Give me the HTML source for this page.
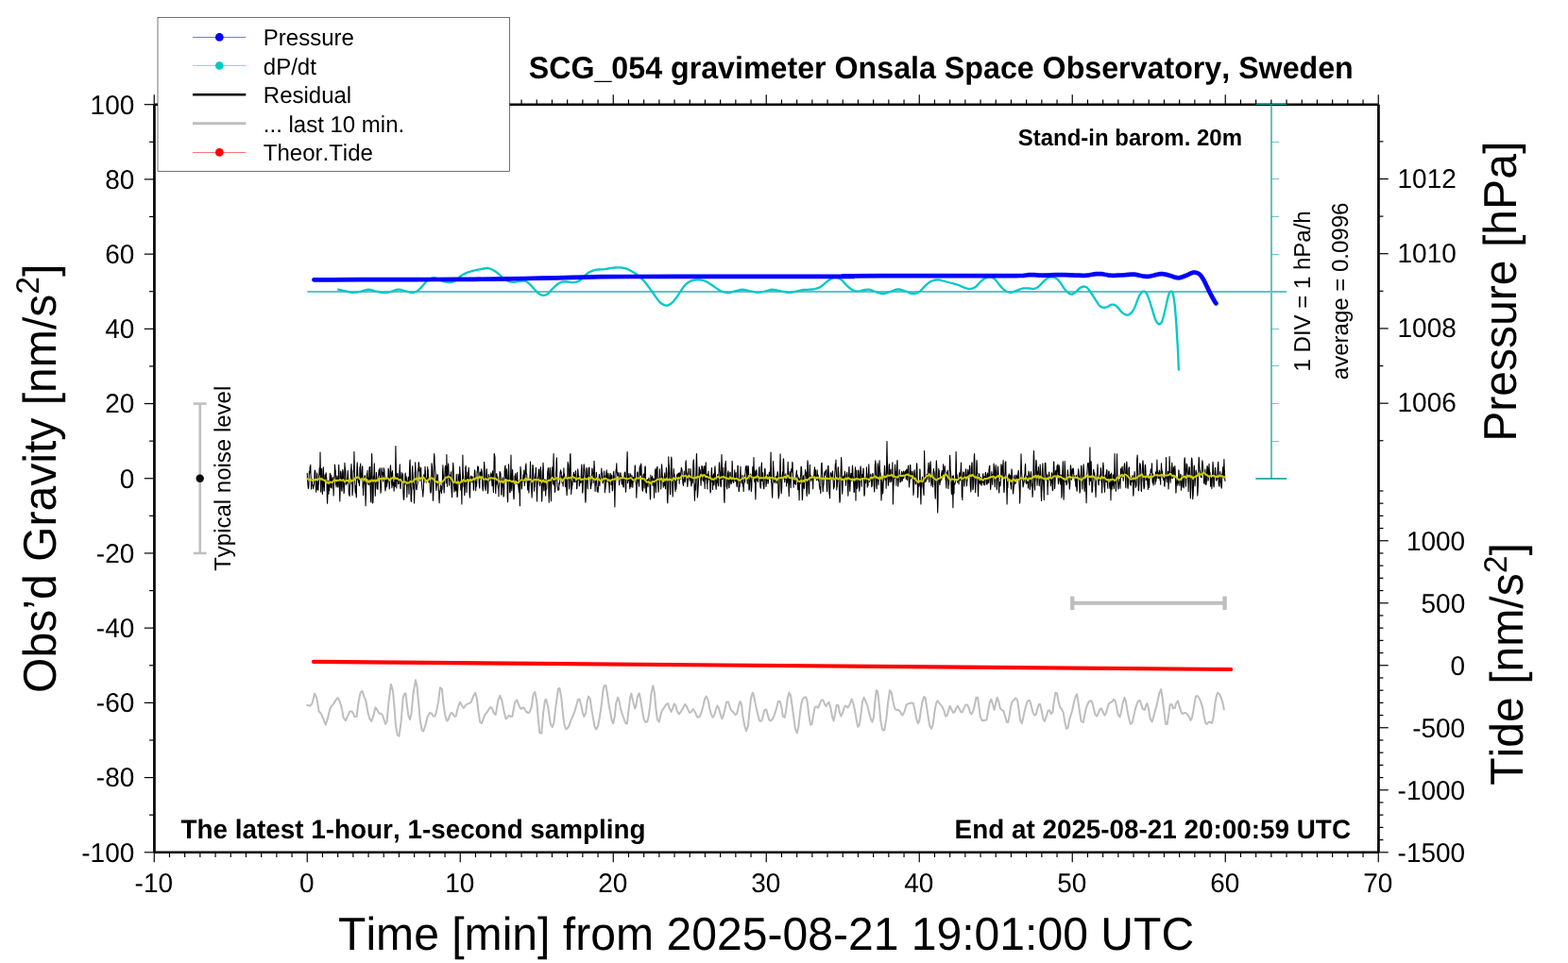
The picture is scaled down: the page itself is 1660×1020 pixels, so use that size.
<!DOCTYPE html>
<html lang="en">
<head>
<meta charset="utf-8">
<title>SCG_054 gravimeter Onsala Space Observatory, Sweden</title>
<style>
html,body{margin:0;padding:0;background:#fff;}
body{width:1660px;height:1020px;overflow:hidden;}
svg{display:block;font-family:'Liberation Sans', 'DejaVu Sans', sans-serif;font-kerning:none;text-rendering:geometricPrecision;}
</style>
</head>
<body>
<svg width="1660" height="1020" viewBox="0 0 1660 1020">
<rect x="0" y="0" width="1660" height="1020" fill="#ffffff"/>
<line x1="152.75" y1="902.80" x2="163.25" y2="902.80" stroke="#000" stroke-width="1.2" />
<text transform="translate(142.30 912.70) scale(1 1.02)" font-size="28" text-anchor="end" >-100</text>
<line x1="158.05" y1="863.19" x2="163.25" y2="863.19" stroke="#000" stroke-width="1.2" />
<line x1="152.75" y1="823.59" x2="163.25" y2="823.59" stroke="#000" stroke-width="1.2" />
<text transform="translate(142.30 833.49) scale(1 1.02)" font-size="28" text-anchor="end" >-80</text>
<line x1="158.05" y1="783.99" x2="163.25" y2="783.99" stroke="#000" stroke-width="1.2" />
<line x1="152.75" y1="744.38" x2="163.25" y2="744.38" stroke="#000" stroke-width="1.2" />
<text transform="translate(142.30 754.28) scale(1 1.02)" font-size="28" text-anchor="end" >-60</text>
<line x1="158.05" y1="704.77" x2="163.25" y2="704.77" stroke="#000" stroke-width="1.2" />
<line x1="152.75" y1="665.17" x2="163.25" y2="665.17" stroke="#000" stroke-width="1.2" />
<text transform="translate(142.30 675.07) scale(1 1.02)" font-size="28" text-anchor="end" >-40</text>
<line x1="158.05" y1="625.57" x2="163.25" y2="625.57" stroke="#000" stroke-width="1.2" />
<line x1="152.75" y1="585.96" x2="163.25" y2="585.96" stroke="#000" stroke-width="1.2" />
<text transform="translate(142.30 595.86) scale(1 1.02)" font-size="28" text-anchor="end" >-20</text>
<line x1="158.05" y1="546.36" x2="163.25" y2="546.36" stroke="#000" stroke-width="1.2" />
<line x1="152.75" y1="506.75" x2="163.25" y2="506.75" stroke="#000" stroke-width="1.2" />
<text transform="translate(142.30 516.65) scale(1 1.02)" font-size="28" text-anchor="end" >0</text>
<line x1="158.05" y1="467.14" x2="163.25" y2="467.14" stroke="#000" stroke-width="1.2" />
<line x1="152.75" y1="427.54" x2="163.25" y2="427.54" stroke="#000" stroke-width="1.2" />
<text transform="translate(142.30 437.44) scale(1 1.02)" font-size="28" text-anchor="end" >20</text>
<line x1="158.05" y1="387.94" x2="163.25" y2="387.94" stroke="#000" stroke-width="1.2" />
<line x1="152.75" y1="348.33" x2="163.25" y2="348.33" stroke="#000" stroke-width="1.2" />
<text transform="translate(142.30 358.23) scale(1 1.02)" font-size="28" text-anchor="end" >40</text>
<line x1="158.05" y1="308.73" x2="163.25" y2="308.73" stroke="#000" stroke-width="1.2" />
<line x1="152.75" y1="269.12" x2="163.25" y2="269.12" stroke="#000" stroke-width="1.2" />
<text transform="translate(142.30 279.02) scale(1 1.02)" font-size="28" text-anchor="end" >60</text>
<line x1="158.05" y1="229.51" x2="163.25" y2="229.51" stroke="#000" stroke-width="1.2" />
<line x1="152.75" y1="189.91" x2="163.25" y2="189.91" stroke="#000" stroke-width="1.2" />
<text transform="translate(142.30 199.81) scale(1 1.02)" font-size="28" text-anchor="end" >80</text>
<line x1="158.05" y1="150.31" x2="163.25" y2="150.31" stroke="#000" stroke-width="1.2" />
<line x1="152.75" y1="110.70" x2="163.25" y2="110.70" stroke="#000" stroke-width="1.2" />
<text transform="translate(142.30 120.60) scale(1 1.02)" font-size="28" text-anchor="end" >100</text>
<line x1="163.25" y1="902.80" x2="163.25" y2="913.30" stroke="#000" stroke-width="1.2" />
<line x1="163.25" y1="110.70" x2="163.25" y2="100.20" stroke="#000" stroke-width="1.2" />
<text transform="translate(162.85 944.70) scale(1 1.02)" font-size="28" text-anchor="middle" >-10</text>
<line x1="179.45" y1="902.80" x2="179.45" y2="908.00" stroke="#000" stroke-width="1.2" />
<line x1="179.45" y1="110.70" x2="179.45" y2="105.50" stroke="#000" stroke-width="1.2" />
<line x1="195.65" y1="902.80" x2="195.65" y2="908.00" stroke="#000" stroke-width="1.2" />
<line x1="195.65" y1="110.70" x2="195.65" y2="105.50" stroke="#000" stroke-width="1.2" />
<line x1="211.85" y1="902.80" x2="211.85" y2="908.00" stroke="#000" stroke-width="1.2" />
<line x1="211.85" y1="110.70" x2="211.85" y2="105.50" stroke="#000" stroke-width="1.2" />
<line x1="228.05" y1="902.80" x2="228.05" y2="908.00" stroke="#000" stroke-width="1.2" />
<line x1="228.05" y1="110.70" x2="228.05" y2="105.50" stroke="#000" stroke-width="1.2" />
<line x1="244.25" y1="902.80" x2="244.25" y2="908.00" stroke="#000" stroke-width="1.2" />
<line x1="244.25" y1="110.70" x2="244.25" y2="105.50" stroke="#000" stroke-width="1.2" />
<line x1="260.45" y1="902.80" x2="260.45" y2="908.00" stroke="#000" stroke-width="1.2" />
<line x1="260.45" y1="110.70" x2="260.45" y2="105.50" stroke="#000" stroke-width="1.2" />
<line x1="276.65" y1="902.80" x2="276.65" y2="908.00" stroke="#000" stroke-width="1.2" />
<line x1="276.65" y1="110.70" x2="276.65" y2="105.50" stroke="#000" stroke-width="1.2" />
<line x1="292.85" y1="902.80" x2="292.85" y2="908.00" stroke="#000" stroke-width="1.2" />
<line x1="292.85" y1="110.70" x2="292.85" y2="105.50" stroke="#000" stroke-width="1.2" />
<line x1="309.05" y1="902.80" x2="309.05" y2="908.00" stroke="#000" stroke-width="1.2" />
<line x1="309.05" y1="110.70" x2="309.05" y2="105.50" stroke="#000" stroke-width="1.2" />
<line x1="325.25" y1="902.80" x2="325.25" y2="913.30" stroke="#000" stroke-width="1.2" />
<line x1="325.25" y1="110.70" x2="325.25" y2="100.20" stroke="#000" stroke-width="1.2" />
<text transform="translate(324.85 944.70) scale(1 1.02)" font-size="28" text-anchor="middle" >0</text>
<line x1="341.45" y1="902.80" x2="341.45" y2="908.00" stroke="#000" stroke-width="1.2" />
<line x1="341.45" y1="110.70" x2="341.45" y2="105.50" stroke="#000" stroke-width="1.2" />
<line x1="357.65" y1="902.80" x2="357.65" y2="908.00" stroke="#000" stroke-width="1.2" />
<line x1="357.65" y1="110.70" x2="357.65" y2="105.50" stroke="#000" stroke-width="1.2" />
<line x1="373.85" y1="902.80" x2="373.85" y2="908.00" stroke="#000" stroke-width="1.2" />
<line x1="373.85" y1="110.70" x2="373.85" y2="105.50" stroke="#000" stroke-width="1.2" />
<line x1="390.05" y1="902.80" x2="390.05" y2="908.00" stroke="#000" stroke-width="1.2" />
<line x1="390.05" y1="110.70" x2="390.05" y2="105.50" stroke="#000" stroke-width="1.2" />
<line x1="406.25" y1="902.80" x2="406.25" y2="908.00" stroke="#000" stroke-width="1.2" />
<line x1="406.25" y1="110.70" x2="406.25" y2="105.50" stroke="#000" stroke-width="1.2" />
<line x1="422.45" y1="902.80" x2="422.45" y2="908.00" stroke="#000" stroke-width="1.2" />
<line x1="422.45" y1="110.70" x2="422.45" y2="105.50" stroke="#000" stroke-width="1.2" />
<line x1="438.65" y1="902.80" x2="438.65" y2="908.00" stroke="#000" stroke-width="1.2" />
<line x1="438.65" y1="110.70" x2="438.65" y2="105.50" stroke="#000" stroke-width="1.2" />
<line x1="454.85" y1="902.80" x2="454.85" y2="908.00" stroke="#000" stroke-width="1.2" />
<line x1="454.85" y1="110.70" x2="454.85" y2="105.50" stroke="#000" stroke-width="1.2" />
<line x1="471.05" y1="902.80" x2="471.05" y2="908.00" stroke="#000" stroke-width="1.2" />
<line x1="471.05" y1="110.70" x2="471.05" y2="105.50" stroke="#000" stroke-width="1.2" />
<line x1="487.25" y1="902.80" x2="487.25" y2="913.30" stroke="#000" stroke-width="1.2" />
<line x1="487.25" y1="110.70" x2="487.25" y2="100.20" stroke="#000" stroke-width="1.2" />
<text transform="translate(486.85 944.70) scale(1 1.02)" font-size="28" text-anchor="middle" >10</text>
<line x1="503.45" y1="902.80" x2="503.45" y2="908.00" stroke="#000" stroke-width="1.2" />
<line x1="503.45" y1="110.70" x2="503.45" y2="105.50" stroke="#000" stroke-width="1.2" />
<line x1="519.65" y1="902.80" x2="519.65" y2="908.00" stroke="#000" stroke-width="1.2" />
<line x1="519.65" y1="110.70" x2="519.65" y2="105.50" stroke="#000" stroke-width="1.2" />
<line x1="535.85" y1="902.80" x2="535.85" y2="908.00" stroke="#000" stroke-width="1.2" />
<line x1="535.85" y1="110.70" x2="535.85" y2="105.50" stroke="#000" stroke-width="1.2" />
<line x1="552.05" y1="902.80" x2="552.05" y2="908.00" stroke="#000" stroke-width="1.2" />
<line x1="552.05" y1="110.70" x2="552.05" y2="105.50" stroke="#000" stroke-width="1.2" />
<line x1="568.25" y1="902.80" x2="568.25" y2="908.00" stroke="#000" stroke-width="1.2" />
<line x1="568.25" y1="110.70" x2="568.25" y2="105.50" stroke="#000" stroke-width="1.2" />
<line x1="584.45" y1="902.80" x2="584.45" y2="908.00" stroke="#000" stroke-width="1.2" />
<line x1="584.45" y1="110.70" x2="584.45" y2="105.50" stroke="#000" stroke-width="1.2" />
<line x1="600.65" y1="902.80" x2="600.65" y2="908.00" stroke="#000" stroke-width="1.2" />
<line x1="600.65" y1="110.70" x2="600.65" y2="105.50" stroke="#000" stroke-width="1.2" />
<line x1="616.85" y1="902.80" x2="616.85" y2="908.00" stroke="#000" stroke-width="1.2" />
<line x1="616.85" y1="110.70" x2="616.85" y2="105.50" stroke="#000" stroke-width="1.2" />
<line x1="633.05" y1="902.80" x2="633.05" y2="908.00" stroke="#000" stroke-width="1.2" />
<line x1="633.05" y1="110.70" x2="633.05" y2="105.50" stroke="#000" stroke-width="1.2" />
<line x1="649.25" y1="902.80" x2="649.25" y2="913.30" stroke="#000" stroke-width="1.2" />
<line x1="649.25" y1="110.70" x2="649.25" y2="100.20" stroke="#000" stroke-width="1.2" />
<text transform="translate(648.85 944.70) scale(1 1.02)" font-size="28" text-anchor="middle" >20</text>
<line x1="665.45" y1="902.80" x2="665.45" y2="908.00" stroke="#000" stroke-width="1.2" />
<line x1="665.45" y1="110.70" x2="665.45" y2="105.50" stroke="#000" stroke-width="1.2" />
<line x1="681.65" y1="902.80" x2="681.65" y2="908.00" stroke="#000" stroke-width="1.2" />
<line x1="681.65" y1="110.70" x2="681.65" y2="105.50" stroke="#000" stroke-width="1.2" />
<line x1="697.85" y1="902.80" x2="697.85" y2="908.00" stroke="#000" stroke-width="1.2" />
<line x1="697.85" y1="110.70" x2="697.85" y2="105.50" stroke="#000" stroke-width="1.2" />
<line x1="714.05" y1="902.80" x2="714.05" y2="908.00" stroke="#000" stroke-width="1.2" />
<line x1="714.05" y1="110.70" x2="714.05" y2="105.50" stroke="#000" stroke-width="1.2" />
<line x1="730.25" y1="902.80" x2="730.25" y2="908.00" stroke="#000" stroke-width="1.2" />
<line x1="730.25" y1="110.70" x2="730.25" y2="105.50" stroke="#000" stroke-width="1.2" />
<line x1="746.45" y1="902.80" x2="746.45" y2="908.00" stroke="#000" stroke-width="1.2" />
<line x1="746.45" y1="110.70" x2="746.45" y2="105.50" stroke="#000" stroke-width="1.2" />
<line x1="762.65" y1="902.80" x2="762.65" y2="908.00" stroke="#000" stroke-width="1.2" />
<line x1="762.65" y1="110.70" x2="762.65" y2="105.50" stroke="#000" stroke-width="1.2" />
<line x1="778.85" y1="902.80" x2="778.85" y2="908.00" stroke="#000" stroke-width="1.2" />
<line x1="778.85" y1="110.70" x2="778.85" y2="105.50" stroke="#000" stroke-width="1.2" />
<line x1="795.05" y1="902.80" x2="795.05" y2="908.00" stroke="#000" stroke-width="1.2" />
<line x1="795.05" y1="110.70" x2="795.05" y2="105.50" stroke="#000" stroke-width="1.2" />
<line x1="811.25" y1="902.80" x2="811.25" y2="913.30" stroke="#000" stroke-width="1.2" />
<line x1="811.25" y1="110.70" x2="811.25" y2="100.20" stroke="#000" stroke-width="1.2" />
<text transform="translate(810.85 944.70) scale(1 1.02)" font-size="28" text-anchor="middle" >30</text>
<line x1="827.45" y1="902.80" x2="827.45" y2="908.00" stroke="#000" stroke-width="1.2" />
<line x1="827.45" y1="110.70" x2="827.45" y2="105.50" stroke="#000" stroke-width="1.2" />
<line x1="843.65" y1="902.80" x2="843.65" y2="908.00" stroke="#000" stroke-width="1.2" />
<line x1="843.65" y1="110.70" x2="843.65" y2="105.50" stroke="#000" stroke-width="1.2" />
<line x1="859.85" y1="902.80" x2="859.85" y2="908.00" stroke="#000" stroke-width="1.2" />
<line x1="859.85" y1="110.70" x2="859.85" y2="105.50" stroke="#000" stroke-width="1.2" />
<line x1="876.05" y1="902.80" x2="876.05" y2="908.00" stroke="#000" stroke-width="1.2" />
<line x1="876.05" y1="110.70" x2="876.05" y2="105.50" stroke="#000" stroke-width="1.2" />
<line x1="892.25" y1="902.80" x2="892.25" y2="908.00" stroke="#000" stroke-width="1.2" />
<line x1="892.25" y1="110.70" x2="892.25" y2="105.50" stroke="#000" stroke-width="1.2" />
<line x1="908.45" y1="902.80" x2="908.45" y2="908.00" stroke="#000" stroke-width="1.2" />
<line x1="908.45" y1="110.70" x2="908.45" y2="105.50" stroke="#000" stroke-width="1.2" />
<line x1="924.65" y1="902.80" x2="924.65" y2="908.00" stroke="#000" stroke-width="1.2" />
<line x1="924.65" y1="110.70" x2="924.65" y2="105.50" stroke="#000" stroke-width="1.2" />
<line x1="940.85" y1="902.80" x2="940.85" y2="908.00" stroke="#000" stroke-width="1.2" />
<line x1="940.85" y1="110.70" x2="940.85" y2="105.50" stroke="#000" stroke-width="1.2" />
<line x1="957.05" y1="902.80" x2="957.05" y2="908.00" stroke="#000" stroke-width="1.2" />
<line x1="957.05" y1="110.70" x2="957.05" y2="105.50" stroke="#000" stroke-width="1.2" />
<line x1="973.25" y1="902.80" x2="973.25" y2="913.30" stroke="#000" stroke-width="1.2" />
<line x1="973.25" y1="110.70" x2="973.25" y2="100.20" stroke="#000" stroke-width="1.2" />
<text transform="translate(972.85 944.70) scale(1 1.02)" font-size="28" text-anchor="middle" >40</text>
<line x1="989.45" y1="902.80" x2="989.45" y2="908.00" stroke="#000" stroke-width="1.2" />
<line x1="989.45" y1="110.70" x2="989.45" y2="105.50" stroke="#000" stroke-width="1.2" />
<line x1="1005.65" y1="902.80" x2="1005.65" y2="908.00" stroke="#000" stroke-width="1.2" />
<line x1="1005.65" y1="110.70" x2="1005.65" y2="105.50" stroke="#000" stroke-width="1.2" />
<line x1="1021.85" y1="902.80" x2="1021.85" y2="908.00" stroke="#000" stroke-width="1.2" />
<line x1="1021.85" y1="110.70" x2="1021.85" y2="105.50" stroke="#000" stroke-width="1.2" />
<line x1="1038.05" y1="902.80" x2="1038.05" y2="908.00" stroke="#000" stroke-width="1.2" />
<line x1="1038.05" y1="110.70" x2="1038.05" y2="105.50" stroke="#000" stroke-width="1.2" />
<line x1="1054.25" y1="902.80" x2="1054.25" y2="908.00" stroke="#000" stroke-width="1.2" />
<line x1="1054.25" y1="110.70" x2="1054.25" y2="105.50" stroke="#000" stroke-width="1.2" />
<line x1="1070.45" y1="902.80" x2="1070.45" y2="908.00" stroke="#000" stroke-width="1.2" />
<line x1="1070.45" y1="110.70" x2="1070.45" y2="105.50" stroke="#000" stroke-width="1.2" />
<line x1="1086.65" y1="902.80" x2="1086.65" y2="908.00" stroke="#000" stroke-width="1.2" />
<line x1="1086.65" y1="110.70" x2="1086.65" y2="105.50" stroke="#000" stroke-width="1.2" />
<line x1="1102.85" y1="902.80" x2="1102.85" y2="908.00" stroke="#000" stroke-width="1.2" />
<line x1="1102.85" y1="110.70" x2="1102.85" y2="105.50" stroke="#000" stroke-width="1.2" />
<line x1="1119.05" y1="902.80" x2="1119.05" y2="908.00" stroke="#000" stroke-width="1.2" />
<line x1="1119.05" y1="110.70" x2="1119.05" y2="105.50" stroke="#000" stroke-width="1.2" />
<line x1="1135.25" y1="902.80" x2="1135.25" y2="913.30" stroke="#000" stroke-width="1.2" />
<line x1="1135.25" y1="110.70" x2="1135.25" y2="100.20" stroke="#000" stroke-width="1.2" />
<text transform="translate(1134.85 944.70) scale(1 1.02)" font-size="28" text-anchor="middle" >50</text>
<line x1="1151.45" y1="902.80" x2="1151.45" y2="908.00" stroke="#000" stroke-width="1.2" />
<line x1="1151.45" y1="110.70" x2="1151.45" y2="105.50" stroke="#000" stroke-width="1.2" />
<line x1="1167.65" y1="902.80" x2="1167.65" y2="908.00" stroke="#000" stroke-width="1.2" />
<line x1="1167.65" y1="110.70" x2="1167.65" y2="105.50" stroke="#000" stroke-width="1.2" />
<line x1="1183.85" y1="902.80" x2="1183.85" y2="908.00" stroke="#000" stroke-width="1.2" />
<line x1="1183.85" y1="110.70" x2="1183.85" y2="105.50" stroke="#000" stroke-width="1.2" />
<line x1="1200.05" y1="902.80" x2="1200.05" y2="908.00" stroke="#000" stroke-width="1.2" />
<line x1="1200.05" y1="110.70" x2="1200.05" y2="105.50" stroke="#000" stroke-width="1.2" />
<line x1="1216.25" y1="902.80" x2="1216.25" y2="908.00" stroke="#000" stroke-width="1.2" />
<line x1="1216.25" y1="110.70" x2="1216.25" y2="105.50" stroke="#000" stroke-width="1.2" />
<line x1="1232.45" y1="902.80" x2="1232.45" y2="908.00" stroke="#000" stroke-width="1.2" />
<line x1="1232.45" y1="110.70" x2="1232.45" y2="105.50" stroke="#000" stroke-width="1.2" />
<line x1="1248.65" y1="902.80" x2="1248.65" y2="908.00" stroke="#000" stroke-width="1.2" />
<line x1="1248.65" y1="110.70" x2="1248.65" y2="105.50" stroke="#000" stroke-width="1.2" />
<line x1="1264.85" y1="902.80" x2="1264.85" y2="908.00" stroke="#000" stroke-width="1.2" />
<line x1="1264.85" y1="110.70" x2="1264.85" y2="105.50" stroke="#000" stroke-width="1.2" />
<line x1="1281.05" y1="902.80" x2="1281.05" y2="908.00" stroke="#000" stroke-width="1.2" />
<line x1="1281.05" y1="110.70" x2="1281.05" y2="105.50" stroke="#000" stroke-width="1.2" />
<line x1="1297.25" y1="902.80" x2="1297.25" y2="913.30" stroke="#000" stroke-width="1.2" />
<line x1="1297.25" y1="110.70" x2="1297.25" y2="100.20" stroke="#000" stroke-width="1.2" />
<text transform="translate(1296.85 944.70) scale(1 1.02)" font-size="28" text-anchor="middle" >60</text>
<line x1="1313.45" y1="902.80" x2="1313.45" y2="908.00" stroke="#000" stroke-width="1.2" />
<line x1="1313.45" y1="110.70" x2="1313.45" y2="105.50" stroke="#000" stroke-width="1.2" />
<line x1="1329.65" y1="902.80" x2="1329.65" y2="908.00" stroke="#000" stroke-width="1.2" />
<line x1="1329.65" y1="110.70" x2="1329.65" y2="105.50" stroke="#000" stroke-width="1.2" />
<line x1="1345.85" y1="902.80" x2="1345.85" y2="908.00" stroke="#000" stroke-width="1.2" />
<line x1="1345.85" y1="110.70" x2="1345.85" y2="105.50" stroke="#000" stroke-width="1.2" />
<line x1="1362.05" y1="902.80" x2="1362.05" y2="908.00" stroke="#000" stroke-width="1.2" />
<line x1="1362.05" y1="110.70" x2="1362.05" y2="105.50" stroke="#000" stroke-width="1.2" />
<line x1="1378.25" y1="902.80" x2="1378.25" y2="908.00" stroke="#000" stroke-width="1.2" />
<line x1="1378.25" y1="110.70" x2="1378.25" y2="105.50" stroke="#000" stroke-width="1.2" />
<line x1="1394.45" y1="902.80" x2="1394.45" y2="908.00" stroke="#000" stroke-width="1.2" />
<line x1="1394.45" y1="110.70" x2="1394.45" y2="105.50" stroke="#000" stroke-width="1.2" />
<line x1="1410.65" y1="902.80" x2="1410.65" y2="908.00" stroke="#000" stroke-width="1.2" />
<line x1="1410.65" y1="110.70" x2="1410.65" y2="105.50" stroke="#000" stroke-width="1.2" />
<line x1="1426.85" y1="902.80" x2="1426.85" y2="908.00" stroke="#000" stroke-width="1.2" />
<line x1="1426.85" y1="110.70" x2="1426.85" y2="105.50" stroke="#000" stroke-width="1.2" />
<line x1="1443.05" y1="902.80" x2="1443.05" y2="908.00" stroke="#000" stroke-width="1.2" />
<line x1="1443.05" y1="110.70" x2="1443.05" y2="105.50" stroke="#000" stroke-width="1.2" />
<line x1="1459.25" y1="902.80" x2="1459.25" y2="913.30" stroke="#000" stroke-width="1.2" />
<line x1="1459.25" y1="110.70" x2="1459.25" y2="100.20" stroke="#000" stroke-width="1.2" />
<text transform="translate(1458.85 944.70) scale(1 1.02)" font-size="28" text-anchor="middle" >70</text>
<line x1="1459.25" y1="466.75" x2="1464.45" y2="466.75" stroke="#000" stroke-width="1.2" />
<line x1="1459.25" y1="427.14" x2="1469.75" y2="427.14" stroke="#000" stroke-width="1.2" />
<text transform="translate(1479.50 436.14) scale(1 1.02)" font-size="28" >1006</text>
<line x1="1459.25" y1="387.53" x2="1464.45" y2="387.53" stroke="#000" stroke-width="1.2" />
<line x1="1459.25" y1="347.93" x2="1469.75" y2="347.93" stroke="#000" stroke-width="1.2" />
<text transform="translate(1479.50 356.93) scale(1 1.02)" font-size="28" >1008</text>
<line x1="1459.25" y1="308.32" x2="1464.45" y2="308.32" stroke="#000" stroke-width="1.2" />
<line x1="1459.25" y1="268.72" x2="1469.75" y2="268.72" stroke="#000" stroke-width="1.2" />
<text transform="translate(1479.50 277.72) scale(1 1.02)" font-size="28" >1010</text>
<line x1="1459.25" y1="229.11" x2="1464.45" y2="229.11" stroke="#000" stroke-width="1.2" />
<line x1="1459.25" y1="189.51" x2="1469.75" y2="189.51" stroke="#000" stroke-width="1.2" />
<text transform="translate(1479.50 198.51) scale(1 1.02)" font-size="28" >1012</text>
<line x1="1459.25" y1="149.90" x2="1464.45" y2="149.90" stroke="#000" stroke-width="1.2" />
<line x1="1459.25" y1="902.80" x2="1469.75" y2="902.80" stroke="#000" stroke-width="1.2" />
<text transform="translate(1551.20 913.30) scale(1 1.02)" font-size="28" text-anchor="end" >-1500</text>
<line x1="1459.25" y1="889.60" x2="1464.45" y2="889.60" stroke="#000" stroke-width="1.2" />
<line x1="1459.25" y1="876.40" x2="1464.45" y2="876.40" stroke="#000" stroke-width="1.2" />
<line x1="1459.25" y1="863.19" x2="1464.45" y2="863.19" stroke="#000" stroke-width="1.2" />
<line x1="1459.25" y1="849.99" x2="1464.45" y2="849.99" stroke="#000" stroke-width="1.2" />
<line x1="1459.25" y1="836.79" x2="1469.75" y2="836.79" stroke="#000" stroke-width="1.2" />
<text transform="translate(1551.20 847.29) scale(1 1.02)" font-size="28" text-anchor="end" >-1000</text>
<line x1="1459.25" y1="823.59" x2="1464.45" y2="823.59" stroke="#000" stroke-width="1.2" />
<line x1="1459.25" y1="810.39" x2="1464.45" y2="810.39" stroke="#000" stroke-width="1.2" />
<line x1="1459.25" y1="797.19" x2="1464.45" y2="797.19" stroke="#000" stroke-width="1.2" />
<line x1="1459.25" y1="783.99" x2="1464.45" y2="783.99" stroke="#000" stroke-width="1.2" />
<line x1="1459.25" y1="770.78" x2="1469.75" y2="770.78" stroke="#000" stroke-width="1.2" />
<text transform="translate(1551.20 781.28) scale(1 1.02)" font-size="28" text-anchor="end" >-500</text>
<line x1="1459.25" y1="757.58" x2="1464.45" y2="757.58" stroke="#000" stroke-width="1.2" />
<line x1="1459.25" y1="744.38" x2="1464.45" y2="744.38" stroke="#000" stroke-width="1.2" />
<line x1="1459.25" y1="731.18" x2="1464.45" y2="731.18" stroke="#000" stroke-width="1.2" />
<line x1="1459.25" y1="717.98" x2="1464.45" y2="717.98" stroke="#000" stroke-width="1.2" />
<line x1="1459.25" y1="704.77" x2="1469.75" y2="704.77" stroke="#000" stroke-width="1.2" />
<text transform="translate(1551.20 715.27) scale(1 1.02)" font-size="28" text-anchor="end" >0</text>
<line x1="1459.25" y1="691.57" x2="1464.45" y2="691.57" stroke="#000" stroke-width="1.2" />
<line x1="1459.25" y1="678.37" x2="1464.45" y2="678.37" stroke="#000" stroke-width="1.2" />
<line x1="1459.25" y1="665.17" x2="1464.45" y2="665.17" stroke="#000" stroke-width="1.2" />
<line x1="1459.25" y1="651.97" x2="1464.45" y2="651.97" stroke="#000" stroke-width="1.2" />
<line x1="1459.25" y1="638.77" x2="1469.75" y2="638.77" stroke="#000" stroke-width="1.2" />
<text transform="translate(1551.20 649.27) scale(1 1.02)" font-size="28" text-anchor="end" >500</text>
<line x1="1459.25" y1="625.56" x2="1464.45" y2="625.56" stroke="#000" stroke-width="1.2" />
<line x1="1459.25" y1="612.36" x2="1464.45" y2="612.36" stroke="#000" stroke-width="1.2" />
<line x1="1459.25" y1="599.16" x2="1464.45" y2="599.16" stroke="#000" stroke-width="1.2" />
<line x1="1459.25" y1="585.96" x2="1464.45" y2="585.96" stroke="#000" stroke-width="1.2" />
<line x1="1459.25" y1="572.76" x2="1469.75" y2="572.76" stroke="#000" stroke-width="1.2" />
<text transform="translate(1551.20 583.26) scale(1 1.02)" font-size="28" text-anchor="end" >1000</text>
<line x1="1459.25" y1="559.56" x2="1464.45" y2="559.56" stroke="#000" stroke-width="1.2" />
<line x1="1459.25" y1="546.36" x2="1464.45" y2="546.36" stroke="#000" stroke-width="1.2" />
<line x1="1459.25" y1="533.15" x2="1464.45" y2="533.15" stroke="#000" stroke-width="1.2" />
<line x1="1459.25" y1="519.95" x2="1464.45" y2="519.95" stroke="#000" stroke-width="1.2" />
<line x1="163.43" y1="110.70" x2="1459.43" y2="110.70" stroke="#000" stroke-width="2.5" />
<line x1="163.43" y1="902.80" x2="1459.43" y2="902.80" stroke="#000" stroke-width="2.5" />
<line x1="163.43" y1="110.70" x2="163.43" y2="902.80" stroke="#000" stroke-width="2.7" />
<line x1="1459.43" y1="110.70" x2="1459.43" y2="902.80" stroke="#000" stroke-width="2.7" />
<line x1="1346.00" y1="110.70" x2="1346.00" y2="507.00" stroke="#009696" stroke-width="1.2" />
<line x1="1329.50" y1="110.50" x2="1362.20" y2="110.50" stroke="#009696" stroke-width="1.0" />
<line x1="1329.30" y1="507.00" x2="1362.20" y2="507.00" stroke="#009696" stroke-width="1.5" />
<line x1="1346.00" y1="467.50" x2="1354.10" y2="467.50" stroke="#009696" stroke-width="0.55" />
<line x1="1346.00" y1="427.50" x2="1354.10" y2="427.50" stroke="#009696" stroke-width="0.55" />
<line x1="1346.00" y1="387.50" x2="1354.10" y2="387.50" stroke="#009696" stroke-width="0.55" />
<line x1="1346.00" y1="348.50" x2="1354.10" y2="348.50" stroke="#009696" stroke-width="0.55" />
<line x1="1346.00" y1="269.50" x2="1354.10" y2="269.50" stroke="#009696" stroke-width="0.55" />
<line x1="1346.00" y1="229.50" x2="1354.10" y2="229.50" stroke="#009696" stroke-width="0.55" />
<line x1="1346.00" y1="189.50" x2="1354.10" y2="189.50" stroke="#009696" stroke-width="0.55" />
<line x1="1346.00" y1="150.50" x2="1354.10" y2="150.50" stroke="#009696" stroke-width="0.55" />
<line x1="1346.00" y1="309.00" x2="1354.10" y2="309.00" stroke="#009696" stroke-width="0.55" />
<line x1="325.25" y1="309.00" x2="1362.20" y2="309.00" stroke="#68c1c1" stroke-width="2" />
<polyline points="325.2,501.4 325.5,507.5 325.8,511.5 326.1,514.4 326.3,517.4 326.6,516.9 326.9,515.4 327.1,506.1 327.4,499.4 327.7,499.4 327.9,501.0 328.2,494.0 328.5,497.6 328.8,492.2 329.0,502.6 329.3,507.6 329.6,518.1 329.8,516.3 330.1,511.1 330.4,507.5 330.6,513.1 330.9,513.5 331.2,514.1 331.5,515.3 331.7,517.8 332.0,514.2 332.3,514.4 332.5,512.4 332.8,507.9 333.1,499.2 333.4,498.0 333.6,499.0 333.9,499.8 334.2,512.0 334.4,516.9 334.7,521.1 335.0,515.0 335.2,509.9 335.5,505.9 335.8,501.1 336.1,518.4 336.3,512.8 336.6,510.6 336.9,519.3 337.1,513.8 337.4,512.8 337.7,503.9 337.9,501.4 338.2,495.9 338.5,502.9 338.8,492.9 339.0,479.0 339.3,497.1 339.6,521.0 339.8,502.0 340.1,496.6 340.4,496.3 340.6,501.5 340.9,514.1 341.2,522.2 341.4,523.4 341.7,518.2 342.0,497.5 342.3,494.9 342.5,497.7 342.8,515.1 343.1,517.3 343.3,520.1 343.6,511.1 343.9,506.7 344.1,502.8 344.4,507.4 344.7,505.7 345.0,503.3 345.2,500.7 345.5,504.9 345.8,506.7 346.0,511.8 346.3,527.5 346.6,533.3 346.9,524.6 347.1,511.6 347.4,509.4 347.7,515.0 347.9,523.2 348.2,518.0 348.5,515.7 348.7,519.6 349.0,509.0 349.3,501.2 349.6,502.1 349.8,509.1 350.1,516.3 350.4,512.9 350.6,503.3 350.9,506.6 351.2,517.1 351.4,509.9 351.7,507.9 352.0,506.9 352.2,505.7 352.5,510.7 352.8,512.4 353.1,524.9 353.3,521.0 353.6,509.2 353.9,504.6 354.1,505.5 354.4,492.0 354.7,494.0 354.9,501.2 355.2,497.8 355.5,513.4 355.8,510.3 356.0,516.0 356.3,513.5 356.6,508.0 356.8,504.1 357.1,506.0 357.4,507.4 357.6,515.2 357.9,516.1 358.2,511.0 358.5,497.3 358.7,492.2 359.0,500.4 359.3,513.1 359.5,521.6 359.8,530.9 360.1,520.9 360.4,512.6 360.6,499.0 360.9,499.9 361.2,503.1 361.4,511.4 361.7,518.9 362.0,520.3 362.2,516.2 362.5,501.4 362.8,497.3 363.1,498.8 363.3,499.6 363.6,515.2 363.9,517.8 364.1,522.8 364.4,520.3 364.7,506.0 364.9,490.4 365.2,494.1 365.5,496.8 365.8,499.0 366.0,510.4 366.3,513.7 366.6,512.7 366.8,510.9 367.1,512.1 367.4,511.9 367.6,506.8 367.9,505.0 368.2,498.5 368.4,501.5 368.7,509.9 369.0,513.1 369.3,521.5 369.5,524.0 369.8,522.0 370.1,525.5 370.3,520.0 370.6,512.7 370.9,512.5 371.1,510.7 371.4,500.4 371.7,495.9 372.0,491.5 372.2,498.4 372.5,509.4 372.8,514.7 373.0,524.8 373.3,520.8 373.6,517.3 373.9,510.0 374.1,498.6 374.4,499.9 374.7,490.8 374.9,478.5 375.2,490.6 375.5,505.0 375.7,507.1 376.0,519.2 376.3,522.1 376.6,514.2 376.8,520.1 377.1,525.5 377.4,527.0 377.6,503.7 377.9,495.1 378.2,489.7 378.4,494.6 378.7,501.3 379.0,508.8 379.2,504.4 379.5,511.1 379.8,508.5 380.1,511.7 380.3,512.7 380.6,514.4 380.9,496.4 381.1,494.3 381.4,495.0 381.7,491.0 381.9,507.1 382.2,505.8 382.5,507.7 382.8,506.1 383.0,501.0 383.3,497.9 383.6,493.7 383.8,494.7 384.1,516.5 384.4,517.1 384.6,524.6 384.9,516.7 385.2,511.7 385.5,510.0 385.7,512.0 386.0,504.3 386.3,503.9 386.5,503.8 386.8,522.2 387.1,535.7 387.4,526.6 387.6,512.5 387.9,512.9 388.2,507.6 388.4,501.6 388.7,505.6 389.0,498.4 389.2,506.4 389.5,512.3 389.8,505.9 390.1,510.5 390.3,511.4 390.6,513.7 390.9,499.0 391.1,494.8 391.4,496.9 391.7,494.2 391.9,505.0 392.2,519.8 392.5,530.2 392.8,532.0 393.0,507.4 393.3,493.7 393.6,480.6 393.8,484.8 394.1,507.9 394.4,532.9 394.6,532.9 394.9,532.0 395.2,522.3 395.4,504.5 395.7,506.1 396.0,501.3 396.3,490.9 396.5,496.2 396.8,510.4 397.1,516.6 397.3,525.2 397.6,517.2 397.9,517.5 398.1,507.1 398.4,500.3 398.7,503.8 399.0,506.5 399.2,510.4 399.5,517.1 399.8,518.1 400.0,518.5 400.3,510.1 400.6,506.8 400.9,501.1 401.1,497.7 401.4,503.1 401.7,502.1 401.9,497.7 402.2,495.7 402.5,511.0 402.7,513.2 403.0,522.2 403.3,520.2 403.6,514.7 403.8,498.9 404.1,495.8 404.4,501.0 404.6,501.6 404.9,503.2 405.2,500.6 405.4,506.1 405.7,510.0 406.0,502.4 406.2,495.5 406.5,497.7 406.8,497.2 407.1,502.2 407.3,506.1 407.6,515.8 407.9,520.0 408.1,518.6 408.4,516.4 408.7,507.5 408.9,511.9 409.2,507.7 409.5,515.6 409.8,512.4 410.0,511.1 410.3,510.8 410.6,506.2 410.8,507.1 411.1,496.0 411.4,497.6 411.6,498.1 411.9,509.0 412.2,517.9 412.5,515.0 412.7,507.9 413.0,504.3 413.3,494.4 413.5,492.9 413.8,500.2 414.1,500.3 414.4,507.9 414.6,510.9 414.9,516.8 415.2,510.9 415.4,498.5 415.7,501.2 416.0,514.1 416.2,510.5 416.5,511.7 416.8,513.0 417.1,520.3 417.3,517.4 417.6,511.6 417.9,508.0 418.1,515.0 418.4,515.2 418.7,489.2 418.9,472.5 419.2,487.5 419.5,507.2 419.8,516.9 420.0,510.5 420.3,509.6 420.6,502.1 420.8,501.3 421.1,502.0 421.4,507.0 421.6,512.6 421.9,511.2 422.2,512.4 422.4,506.5 422.7,505.5 423.0,498.8 423.3,491.9 423.5,500.8 423.8,516.2 424.1,517.7 424.3,514.1 424.6,509.9 424.9,504.9 425.1,500.4 425.4,510.3 425.7,507.6 426.0,508.7 426.2,504.4 426.5,501.7 426.8,516.5 427.0,523.7 427.3,529.3 427.6,529.3 427.9,524.3 428.1,517.9 428.4,510.9 428.7,513.5 428.9,502.6 429.2,501.1 429.5,507.5 429.7,511.9 430.0,504.6 430.3,506.2 430.6,515.1 430.8,526.6 431.1,516.7 431.4,510.7 431.6,509.6 431.9,511.3 432.2,506.1 432.4,505.4 432.7,513.9 433.0,523.2 433.2,511.2 433.5,498.0 433.8,488.8 434.1,487.1 434.3,493.0 434.6,515.4 434.9,519.4 435.1,529.7 435.4,531.5 435.7,524.3 435.9,518.4 436.2,502.8 436.5,496.2 436.8,493.5 437.0,501.7 437.3,506.9 437.6,517.9 437.8,512.6 438.1,514.7 438.4,526.1 438.6,532.9 438.9,521.8 439.2,500.8 439.5,499.1 439.7,489.7 440.0,497.3 440.3,499.9 440.5,514.1 440.8,518.3 441.1,518.7 441.4,516.5 441.6,514.8 441.9,513.5 442.2,511.6 442.4,499.6 442.7,496.0 443.0,497.7 443.2,489.9 443.5,489.9 443.8,499.1 444.0,494.3 444.3,497.6 444.6,509.1 444.9,502.1 445.1,497.2 445.4,498.6 445.7,495.4 445.9,503.1 446.2,510.0 446.5,512.3 446.8,516.3 447.0,517.9 447.3,519.5 447.6,523.3 447.8,526.3 448.1,520.8 448.4,518.3 448.6,502.7 448.9,511.1 449.2,505.8 449.4,506.8 449.7,503.5 450.0,494.3 450.3,499.2 450.5,498.5 450.8,508.5 451.1,507.3 451.3,511.3 451.6,508.2 451.9,506.5 452.1,508.4 452.4,507.2 452.7,494.6 453.0,501.3 453.2,497.3 453.5,506.4 453.8,507.9 454.0,511.0 454.3,507.7 454.6,507.0 454.9,509.8 455.1,510.8 455.4,519.4 455.7,520.8 455.9,522.3 456.2,521.2 456.5,519.3 456.7,507.9 457.0,490.7 457.3,492.7 457.5,494.4 457.8,499.0 458.1,513.9 458.4,530.3 458.6,530.1 458.9,521.2 459.2,501.2 459.4,487.2 459.7,480.6 460.0,484.0 460.2,491.9 460.5,494.2 460.8,497.7 461.1,503.9 461.3,507.7 461.6,515.8 461.9,519.4 462.1,515.5 462.4,513.9 462.7,505.6 462.9,502.3 463.2,503.6 463.5,503.5 463.8,514.3 464.0,509.3 464.3,519.6 464.6,518.9 464.8,527.9 465.1,532.7 465.4,524.4 465.6,520.2 465.9,520.6 466.2,519.7 466.5,513.8 466.7,516.7 467.0,515.0 467.3,522.4 467.5,522.3 467.8,517.0 468.1,518.5 468.4,509.4 468.6,498.0 468.9,492.8 469.2,501.3 469.4,503.1 469.7,511.5 470.0,518.5 470.2,522.0 470.5,515.3 470.8,508.2 471.0,500.5 471.3,494.9 471.6,493.3 471.9,493.9 472.1,499.1 472.4,511.8 472.7,498.8 472.9,481.5 473.2,500.6 473.5,515.2 473.8,503.7 474.0,494.5 474.3,496.0 474.6,491.1 474.8,493.8 475.1,503.1 475.4,508.7 475.6,514.3 475.9,510.5 476.2,508.6 476.5,503.3 476.7,505.9 477.0,504.3 477.3,499.9 477.5,508.8 477.8,516.1 478.1,519.9 478.3,523.7 478.6,526.8 478.9,513.7 479.1,499.3 479.4,497.3 479.7,490.2 480.0,494.0 480.2,499.6 480.5,513.6 480.8,517.1 481.0,521.0 481.3,515.9 481.6,510.0 481.9,514.0 482.1,513.1 482.4,519.7 482.7,519.8 482.9,511.3 483.2,502.2 483.5,509.4 483.7,518.7 484.0,526.5 484.3,525.9 484.6,520.1 484.8,517.0 485.1,502.0 485.4,504.7 485.6,506.0 485.9,509.6 486.2,511.1 486.4,512.6 486.7,494.3 487.0,498.2 487.2,501.5 487.5,504.4 487.8,519.1 488.1,512.2 488.3,510.9 488.6,521.4 488.9,534.0 489.1,519.8 489.4,514.9 489.7,503.8 489.9,482.0 490.2,496.9 490.5,503.6 490.8,507.6 491.0,515.2 491.3,511.3 491.6,519.2 491.8,524.7 492.1,520.9 492.4,514.3 492.6,495.2 492.9,500.7 493.2,493.5 493.5,498.9 493.7,508.8 494.0,521.6 494.3,515.2 494.5,510.8 494.8,506.0 495.1,500.2 495.4,509.7 495.6,506.9 495.9,499.3 496.2,495.2 496.4,498.8 496.7,507.8 497.0,519.9 497.2,524.5 497.5,527.3 497.8,516.1 498.0,506.7 498.3,505.4 498.6,504.1 498.9,504.3 499.1,507.0 499.4,510.6 499.7,508.5 499.9,505.7 500.2,504.9 500.5,508.1 500.8,511.1 501.0,508.1 501.3,519.3 501.6,518.7 501.8,514.4 502.1,506.5 502.4,499.1 502.6,497.9 502.9,499.8 503.2,505.3 503.4,509.5 503.7,519.8 504.0,510.4 504.3,513.8 504.5,515.2 504.8,510.2 505.1,499.2 505.3,500.6 505.6,495.1 505.9,493.7 506.1,494.3 506.4,494.7 506.7,497.5 507.0,505.2 507.2,511.0 507.5,515.0 507.8,517.1 508.0,507.8 508.3,500.1 508.6,507.3 508.9,502.6 509.1,505.1 509.4,499.9 509.7,496.8 509.9,498.8 510.2,499.6 510.5,506.4 510.7,513.8 511.0,517.6 511.3,519.9 511.5,516.8 511.8,512.7 512.1,504.3 512.4,495.5 512.6,489.2 512.9,493.1 513.2,499.0 513.4,514.9 513.7,517.5 514.0,519.5 514.2,516.9 514.5,512.4 514.8,503.5 515.1,497.5 515.3,496.7 515.6,508.6 515.9,512.7 516.1,516.8 516.4,522.6 516.7,521.4 517.0,511.6 517.2,502.4 517.5,505.8 517.8,505.0 518.0,506.5 518.3,507.3 518.6,509.1 518.8,508.7 519.1,505.6 519.4,502.4 519.6,505.2 519.9,500.8 520.2,502.3 520.5,508.7 520.7,509.5 521.0,514.8 521.3,505.8 521.5,498.9 521.8,513.7 522.1,514.1 522.4,521.4 522.6,505.7 522.9,498.0 523.2,480.6 523.4,480.6 523.7,482.7 524.0,484.6 524.2,511.6 524.5,517.6 524.8,522.6 525.0,515.5 525.3,512.6 525.6,501.8 525.9,501.7 526.1,505.8 526.4,512.7 526.7,505.1 526.9,512.6 527.2,514.9 527.5,517.6 527.8,515.8 528.0,525.8 528.3,515.2 528.6,514.9 528.8,507.8 529.1,499.3 529.4,501.1 529.6,500.6 529.9,501.2 530.2,505.7 530.5,512.9 530.7,524.1 531.0,524.2 531.3,518.0 531.5,515.1 531.8,511.3 532.1,507.1 532.3,505.9 532.6,513.7 532.9,517.9 533.1,526.2 533.4,525.0 533.7,518.5 534.0,510.0 534.2,498.6 534.5,495.2 534.8,493.7 535.0,493.1 535.3,506.7 535.6,505.0 535.9,506.7 536.1,505.9 536.4,496.8 536.7,499.9 536.9,506.4 537.2,526.1 537.5,531.8 537.7,529.1 538.0,510.1 538.3,500.4 538.5,491.8 538.8,500.2 539.1,507.7 539.4,510.3 539.6,520.7 539.9,521.8 540.2,520.3 540.4,517.3 540.7,497.1 541.0,482.0 541.2,496.4 541.5,514.7 541.8,519.8 542.1,513.2 542.3,506.1 542.6,497.6 542.9,504.3 543.1,505.5 543.4,515.4 543.7,525.5 544.0,528.7 544.2,527.7 544.5,514.1 544.8,513.3 545.0,503.9 545.3,506.7 545.6,508.3 545.8,501.5 546.1,502.3 546.4,508.9 546.6,508.7 546.9,507.6 547.2,512.4 547.5,507.9 547.7,500.2 548.0,512.5 548.3,510.1 548.5,513.4 548.8,515.1 549.1,518.0 549.4,521.2 549.6,509.3 549.9,508.7 550.2,525.3 550.4,535.7 550.7,514.7 551.0,494.2 551.2,496.4 551.5,500.0 551.8,510.6 552.0,509.6 552.3,517.9 552.6,515.0 552.9,507.5 553.1,507.2 553.4,509.7 553.7,509.7 553.9,502.9 554.2,509.6 554.5,507.4 554.8,498.0 555.0,500.8 555.3,514.5 555.6,509.8 555.8,511.5 556.1,502.4 556.4,493.0 556.6,494.8 556.9,491.0 557.2,500.8 557.5,502.6 557.7,502.3 558.0,509.7 558.3,511.4 558.5,516.5 558.8,519.3 559.1,514.1 559.3,509.4 559.6,514.4 559.9,522.0 560.1,515.3 560.4,510.4 560.7,508.7 561.0,504.2 561.2,499.2 561.5,489.1 561.8,501.6 562.0,510.4 562.3,513.9 562.6,520.2 562.8,520.7 563.1,527.0 563.4,520.6 563.7,500.8 563.9,492.6 564.2,492.8 564.5,497.3 564.7,503.5 565.0,505.4 565.3,515.2 565.5,520.3 565.8,515.9 566.1,515.5 566.4,504.8 566.6,501.5 566.9,507.1 567.2,498.2 567.4,495.2 567.7,505.3 568.0,509.0 568.2,522.2 568.5,530.9 568.8,521.1 569.1,507.8 569.3,513.1 569.6,505.6 569.9,504.6 570.1,500.8 570.4,497.4 570.7,497.1 571.0,504.6 571.2,510.9 571.5,514.4 571.8,511.8 572.0,505.9 572.3,494.6 572.6,498.3 572.8,498.6 573.1,506.8 573.4,525.5 573.6,531.0 573.9,525.7 574.2,518.1 574.5,506.6 574.7,497.1 575.0,490.3 575.3,496.1 575.5,512.9 575.8,519.7 576.1,519.7 576.4,510.0 576.6,507.9 576.9,508.8 577.2,508.2 577.4,509.9 577.7,525.1 578.0,518.1 578.2,518.5 578.5,518.1 578.8,517.1 579.0,508.1 579.3,508.7 579.6,501.3 579.9,499.2 580.1,497.2 580.4,495.5 580.7,504.7 580.9,521.5 581.2,532.3 581.5,522.9 581.8,505.8 582.0,497.5 582.3,495.3 582.6,499.0 582.8,507.6 583.1,520.9 583.4,530.8 583.6,516.6 583.9,509.8 584.2,502.9 584.5,494.8 584.7,508.3 585.0,503.7 585.3,505.5 585.5,512.8 585.8,490.2 586.1,480.6 586.3,494.7 586.6,514.1 586.9,506.5 587.2,510.5 587.4,521.4 587.7,520.3 588.0,509.5 588.2,509.1 588.5,499.7 588.8,498.0 589.0,490.4 589.3,484.7 589.6,492.5 589.8,508.1 590.1,515.8 590.4,516.3 590.7,519.2 590.9,516.3 591.2,517.9 591.5,517.7 591.7,519.2 592.0,511.3 592.3,512.0 592.5,512.9 592.8,505.3 593.1,499.8 593.4,499.7 593.6,497.8 593.9,501.4 594.2,499.7 594.4,508.1 594.7,511.0 595.0,510.7 595.2,504.1 595.5,511.4 595.8,511.0 596.1,515.1 596.3,510.4 596.6,504.1 596.9,495.8 597.1,501.9 597.4,501.9 597.7,504.4 598.0,507.6 598.2,509.6 598.5,515.8 598.8,512.6 599.0,507.2 599.3,505.3 599.6,517.0 599.8,518.7 600.1,524.7 600.4,519.6 600.6,513.0 600.9,496.4 601.2,489.3 601.5,492.4 601.7,491.2 602.0,496.9 602.3,509.9 602.5,518.0 602.8,516.5 603.1,503.4 603.4,490.2 603.6,481.7 603.9,480.6 604.2,493.8 604.4,509.9 604.7,523.4 605.0,518.8 605.2,510.1 605.5,517.4 605.8,509.9 606.0,513.9 606.3,506.8 606.6,504.1 606.9,502.9 607.1,503.0 607.4,500.4 607.7,510.5 607.9,509.6 608.2,502.3 608.5,507.5 608.8,504.0 609.0,510.8 609.3,499.2 609.6,498.8 609.8,503.2 610.1,507.8 610.4,509.2 610.6,517.7 610.9,517.2 611.2,510.8 611.5,504.0 611.7,496.8 612.0,499.5 612.3,503.4 612.5,508.3 612.8,506.7 613.1,504.6 613.3,514.9 613.6,513.9 613.9,508.7 614.1,511.5 614.4,511.3 614.7,508.4 615.0,511.3 615.2,504.0 615.5,497.0 615.8,492.0 616.0,496.0 616.3,508.3 616.6,520.3 616.8,522.3 617.1,518.0 617.4,506.1 617.7,502.1 617.9,497.2 618.2,491.9 618.5,494.5 618.7,496.6 619.0,499.3 619.3,516.7 619.5,524.5 619.8,532.1 620.1,530.3 620.4,518.9 620.6,503.9 620.9,495.5 621.2,496.6 621.4,500.5 621.7,508.6 622.0,516.6 622.2,517.9 622.5,503.3 622.8,506.5 623.1,495.7 623.3,500.8 623.6,501.7 623.9,494.9 624.1,503.5 624.4,505.1 624.7,505.4 625.0,511.9 625.2,515.2 625.5,517.7 625.8,514.7 626.0,514.3 626.3,511.4 626.6,500.5 626.8,496.0 627.1,496.6 627.4,501.1 627.7,500.4 627.9,501.7 628.2,511.4 628.5,505.3 628.7,498.0 629.0,488.2 629.3,493.5 629.5,497.4 629.8,508.6 630.1,520.5 630.3,512.7 630.6,514.2 630.9,507.5 631.2,504.7 631.4,500.4 631.7,507.6 632.0,515.9 632.2,520.2 632.5,519.2 632.8,516.4 633.0,521.6 633.3,519.6 633.6,514.3 633.9,509.4 634.1,506.1 634.4,502.6 634.7,506.2 634.9,514.4 635.2,510.0 635.5,509.7 635.8,507.3 636.0,505.7 636.3,501.3 636.6,501.0 636.8,496.0 637.1,501.7 637.4,500.2 637.6,505.7 637.9,507.2 638.2,511.9 638.5,509.0 638.7,510.5 639.0,508.2 639.3,502.3 639.5,499.1 639.8,507.9 640.1,503.2 640.3,521.7 640.6,515.0 640.9,518.2 641.1,516.0 641.4,512.4 641.7,500.3 642.0,499.5 642.2,497.9 642.5,504.5 642.8,509.4 643.0,510.4 643.3,508.6 643.6,504.4 643.9,501.0 644.1,502.6 644.4,510.0 644.7,512.5 644.9,514.9 645.2,521.7 645.5,507.4 645.7,504.8 646.0,502.0 646.3,501.4 646.5,506.1 646.8,509.5 647.1,513.5 647.4,504.8 647.6,503.3 647.9,511.8 648.2,518.9 648.4,519.9 648.7,517.9 649.0,509.2 649.2,503.4 649.5,500.4 649.8,499.3 650.1,506.4 650.3,503.9 650.6,523.8 650.9,537.0 651.1,525.4 651.4,511.8 651.7,511.8 652.0,500.6 652.2,497.4 652.5,496.5 652.8,490.8 653.0,497.9 653.3,501.1 653.6,501.1 653.8,504.2 654.1,500.7 654.4,501.8 654.6,503.6 654.9,500.8 655.2,504.1 655.5,513.8 655.7,511.1 656.0,509.4 656.3,506.3 656.5,506.7 656.8,500.8 657.1,501.6 657.3,506.2 657.6,507.9 657.9,504.5 658.2,512.7 658.4,512.1 658.7,512.9 659.0,511.4 659.2,506.6 659.5,511.5 659.8,515.8 660.0,516.0 660.3,515.5 660.6,505.7 660.9,506.0 661.1,502.2 661.4,500.2 661.7,500.1 661.9,506.9 662.2,516.7 662.5,521.2 662.8,516.8 663.0,505.5 663.3,499.7 663.6,495.1 663.8,486.0 664.1,478.5 664.4,489.6 664.6,511.7 664.9,508.6 665.2,508.9 665.5,507.1 665.7,504.5 666.0,501.6 666.3,505.7 666.5,513.7 666.8,517.8 667.1,512.8 667.3,510.0 667.6,501.9 667.9,510.6 668.1,515.6 668.4,509.3 668.7,510.7 669.0,503.6 669.2,510.2 669.5,511.7 669.8,516.2 670.0,511.8 670.3,505.2 670.6,507.0 670.8,510.1 671.1,508.9 671.4,508.6 671.7,507.4 671.9,502.3 672.2,492.9 672.5,494.4 672.7,504.5 673.0,510.0 673.3,512.1 673.5,514.0 673.8,527.3 674.1,519.6 674.4,514.9 674.6,500.8 674.9,499.9 675.2,500.4 675.4,509.5 675.7,506.5 676.0,510.9 676.2,512.5 676.5,515.3 676.8,508.6 677.1,495.4 677.3,495.9 677.6,493.0 677.9,502.1 678.1,503.5 678.4,497.8 678.7,491.0 679.0,493.7 679.2,502.8 679.5,505.4 679.8,514.9 680.0,518.3 680.3,520.3 680.6,519.0 680.8,508.9 681.1,502.7 681.4,501.9 681.6,502.9 681.9,508.3 682.2,517.1 682.5,508.6 682.7,495.9 683.0,493.9 683.3,495.0 683.5,505.0 683.8,521.3 684.1,519.9 684.4,522.2 684.6,516.8 684.9,508.6 685.2,513.5 685.4,510.7 685.7,507.8 686.0,515.6 686.2,511.2 686.5,510.2 686.8,507.1 687.0,506.1 687.3,510.7 687.6,509.7 687.9,510.5 688.1,521.5 688.4,529.0 688.7,525.9 688.9,503.0 689.2,508.6 689.5,510.5 689.8,505.5 690.0,508.8 690.3,508.2 690.6,504.6 690.8,508.4 691.1,514.1 691.4,511.6 691.6,511.8 691.9,506.9 692.2,514.7 692.5,527.2 692.7,517.7 693.0,512.1 693.3,505.9 693.5,500.7 693.8,496.8 694.1,509.2 694.3,521.7 694.6,515.6 694.9,507.8 695.1,496.3 695.4,498.2 695.7,494.6 696.0,494.5 696.2,506.6 696.5,511.7 696.8,518.0 697.0,521.3 697.3,518.2 697.6,510.7 697.8,506.4 698.1,506.2 698.4,496.7 698.7,506.6 698.9,508.0 699.2,507.2 699.5,509.5 699.7,518.0 700.0,512.5 700.3,498.1 700.5,491.8 700.8,495.2 701.1,499.7 701.4,510.0 701.6,504.0 701.9,509.2 702.2,516.3 702.4,511.1 702.7,510.4 703.0,513.7 703.2,514.2 703.5,504.0 703.8,500.9 704.1,509.3 704.3,515.8 704.6,517.8 704.9,510.2 705.1,509.1 705.4,495.3 705.7,498.0 706.0,501.8 706.2,515.9 706.5,530.3 706.8,532.9 707.0,527.6 707.3,523.0 707.6,503.6 707.8,483.7 708.1,491.8 708.4,492.9 708.6,498.2 708.9,506.6 709.2,517.1 709.5,523.5 709.7,523.5 710.0,509.9 710.3,498.1 710.5,488.4 710.8,484.1 711.1,486.7 711.3,499.3 711.6,505.1 711.9,517.0 712.2,526.0 712.4,522.4 712.7,514.2 713.0,503.2 713.2,496.6 713.5,500.6 713.8,508.2 714.0,502.2 714.3,509.1 714.6,514.5 714.9,520.5 715.1,516.3 715.4,514.8 715.7,509.5 715.9,518.0 716.2,512.9 716.5,502.9 716.8,508.8 717.0,507.5 717.3,505.6 717.6,502.0 717.8,504.2 718.1,503.6 718.4,501.1 718.6,502.4 718.9,504.5 719.2,512.3 719.5,500.8 719.7,507.3 720.0,502.2 720.3,507.4 720.5,505.4 720.8,500.1 721.1,498.3 721.3,495.3 721.6,497.1 721.9,496.9 722.1,498.4 722.4,508.2 722.7,507.6 723.0,512.8 723.2,512.3 723.5,514.4 723.8,508.3 724.0,507.7 724.3,499.1 724.6,505.9 724.9,509.3 725.1,511.0 725.4,509.0 725.7,509.0 725.9,490.4 726.2,487.7 726.5,494.8 726.7,497.1 727.0,502.5 727.3,500.9 727.5,512.1 727.8,515.4 728.1,512.0 728.4,506.8 728.6,507.8 728.9,499.7 729.2,496.2 729.4,505.1 729.7,504.4 730.0,505.4 730.2,509.2 730.5,506.3 730.8,504.3 731.1,496.6 731.3,499.1 731.6,511.0 731.9,515.0 732.1,514.0 732.4,505.8 732.7,505.5 733.0,510.2 733.2,511.6 733.5,504.0 733.8,492.6 734.0,488.9 734.3,486.7 734.6,493.4 734.8,497.5 735.1,519.7 735.4,530.2 735.6,523.8 735.9,518.3 736.2,512.5 736.5,518.9 736.7,509.7 737.0,497.6 737.3,482.7 737.5,480.6 737.8,491.8 738.1,511.3 738.3,527.1 738.6,525.0 738.9,520.0 739.2,514.9 739.4,513.0 739.7,504.9 740.0,499.0 740.2,494.6 740.5,495.7 740.8,497.1 741.0,503.8 741.3,497.8 741.6,503.3 741.9,509.9 742.1,514.2 742.4,508.5 742.7,503.1 742.9,493.5 743.2,497.0 743.5,493.9 743.8,503.6 744.0,508.4 744.3,505.8 744.6,509.7 744.8,497.8 745.1,495.8 745.4,493.8 745.6,500.0 745.9,511.8 746.2,517.5 746.5,502.6 746.7,493.6 747.0,495.4 747.3,489.8 747.5,498.0 747.8,508.1 748.1,503.1 748.3,512.0 748.6,508.5 748.9,518.0 749.1,502.0 749.4,510.6 749.7,504.7 750.0,499.0 750.2,508.0 750.5,502.7 750.8,505.1 751.0,505.6 751.3,505.6 751.6,509.4 751.8,518.1 752.1,522.0 752.4,520.3 752.7,509.6 752.9,503.7 753.2,498.0 753.5,495.6 753.7,503.6 754.0,510.4 754.3,503.8 754.5,518.5 754.8,507.8 755.1,507.2 755.4,501.9 755.6,506.5 755.9,514.0 756.2,511.9 756.4,503.7 756.7,496.4 757.0,493.9 757.2,498.2 757.5,504.9 757.8,514.9 758.1,518.3 758.3,516.9 758.6,509.1 758.9,510.3 759.1,507.1 759.4,511.1 759.7,502.5 760.0,508.9 760.2,513.4 760.5,514.8 760.8,514.1 761.0,502.3 761.3,492.7 761.6,489.7 761.8,492.8 762.1,498.1 762.4,500.1 762.6,509.3 762.9,514.5 763.2,515.6 763.5,513.3 763.7,495.1 764.0,481.5 764.3,489.7 764.5,505.8 764.8,507.9 765.1,505.8 765.4,501.4 765.6,504.7 765.9,495.3 766.2,506.0 766.4,517.7 766.7,530.2 767.0,532.5 767.2,519.0 767.5,503.4 767.8,491.3 768.0,492.0 768.3,488.4 768.6,495.4 768.9,500.0 769.1,515.4 769.4,515.3 769.7,517.9 769.9,515.6 770.2,511.6 770.5,500.8 770.8,501.0 771.0,498.8 771.3,501.9 771.6,510.8 771.8,516.7 772.1,516.0 772.4,507.1 772.6,505.9 772.9,500.3 773.2,500.2 773.5,510.4 773.7,511.2 774.0,512.6 774.3,512.5 774.5,508.5 774.8,508.7 775.1,488.3 775.3,491.0 775.6,502.3 775.9,510.2 776.1,507.5 776.4,506.6 776.7,511.5 777.0,508.9 777.2,506.3 777.5,505.4 777.8,497.9 778.0,506.6 778.3,505.9 778.6,509.7 778.8,509.0 779.1,500.6 779.4,509.9 779.7,510.1 779.9,514.3 780.2,515.6 780.5,512.0 780.7,506.3 781.0,493.2 781.3,493.3 781.5,501.0 781.8,507.2 782.1,519.1 782.4,520.7 782.6,516.9 782.9,516.1 783.2,514.2 783.4,509.9 783.7,500.9 784.0,494.2 784.2,501.2 784.5,506.3 784.8,509.1 785.1,511.3 785.3,511.7 785.6,506.7 785.9,512.3 786.1,503.2 786.4,513.8 786.7,515.7 787.0,514.4 787.2,520.5 787.5,514.5 787.8,511.4 788.0,505.8 788.3,503.6 788.6,510.8 788.8,502.9 789.1,500.3 789.4,494.3 789.6,494.5 789.9,497.1 790.2,493.2 790.5,499.9 790.7,505.3 791.0,508.6 791.3,512.3 791.5,499.5 791.8,493.6 792.1,494.6 792.3,493.8 792.6,500.6 792.9,519.1 793.2,515.8 793.4,518.5 793.7,508.8 794.0,509.2 794.2,505.7 794.5,502.1 794.8,508.3 795.0,510.8 795.3,520.7 795.6,518.0 795.9,513.9 796.1,502.7 796.4,506.6 796.7,497.7 796.9,494.2 797.2,495.8 797.5,505.4 797.8,496.1 798.0,484.5 798.3,497.4 798.6,510.2 798.8,497.8 799.1,499.2 799.4,505.5 799.6,518.4 799.9,529.0 800.2,518.1 800.4,499.6 800.7,499.1 801.0,497.5 801.3,508.3 801.5,508.7 801.8,508.0 802.1,509.9 802.3,507.9 802.6,510.4 802.9,506.1 803.1,503.5 803.4,501.0 803.7,495.6 804.0,494.6 804.2,504.4 804.5,506.7 804.8,515.7 805.0,511.3 805.3,517.1 805.6,514.0 805.9,498.8 806.1,493.8 806.4,490.0 806.7,504.0 806.9,509.5 807.2,504.5 807.5,500.8 807.7,500.8 808.0,511.9 808.3,515.3 808.5,517.2 808.8,517.8 809.1,513.1 809.4,506.0 809.6,496.8 809.9,496.4 810.2,499.8 810.4,507.8 810.7,506.4 811.0,515.5 811.2,513.1 811.5,512.2 811.8,506.9 812.1,504.2 812.3,502.7 812.6,502.9 812.9,508.2 813.1,512.3 813.4,510.3 813.7,507.3 814.0,504.1 814.2,501.9 814.5,500.1 814.8,500.7 815.0,505.5 815.3,506.9 815.6,506.7 815.8,491.6 816.1,479.0 816.4,494.6 816.6,511.0 816.9,511.7 817.2,517.9 817.5,525.5 817.7,527.3 818.0,514.7 818.3,500.5 818.5,488.5 818.8,494.0 819.1,498.6 819.3,501.7 819.6,510.5 819.9,509.6 820.2,511.6 820.4,506.2 820.7,509.1 821.0,509.6 821.2,505.9 821.5,504.5 821.8,510.8 822.0,509.7 822.3,512.0 822.6,503.6 822.9,505.2 823.1,499.9 823.4,499.9 823.7,503.4 823.9,519.0 824.2,527.9 824.5,523.9 824.8,525.5 825.0,516.7 825.3,505.3 825.6,499.4 825.8,491.4 826.1,480.9 826.4,495.9 826.6,505.7 826.9,519.1 827.2,522.6 827.5,520.0 827.7,515.8 828.0,505.3 828.3,503.7 828.5,500.0 828.8,504.2 829.1,491.0 829.3,486.3 829.6,485.9 829.9,494.7 830.1,507.3 830.4,503.4 830.7,510.7 831.0,507.9 831.2,507.7 831.5,506.4 831.8,501.7 832.0,506.9 832.3,504.0 832.6,515.0 832.8,508.3 833.1,507.8 833.4,511.5 833.7,506.5 833.9,497.4 834.2,489.3 834.5,500.8 834.7,509.1 835.0,518.9 835.3,525.5 835.5,516.8 835.8,505.1 836.1,499.4 836.4,501.8 836.6,504.6 836.9,511.8 837.2,516.7 837.4,509.4 837.7,498.1 838.0,496.4 838.2,499.5 838.5,499.8 838.8,489.4 839.1,490.5 839.3,497.8 839.6,507.5 839.9,508.7 840.1,516.3 840.4,509.7 840.7,509.9 840.9,506.0 841.2,511.5 841.5,512.4 841.8,507.8 842.0,509.7 842.3,511.0 842.6,513.5 842.8,504.6 843.1,500.0 843.4,498.4 843.6,506.3 843.9,503.8 844.2,503.1 844.5,512.2 844.7,518.8 845.0,517.2 845.3,506.8 845.5,505.9 845.8,517.1 846.1,529.7 846.3,520.8 846.6,507.2 846.9,512.8 847.2,511.5 847.4,503.8 847.7,503.6 848.0,494.4 848.2,494.1 848.5,495.4 848.8,500.2 849.1,520.1 849.3,529.6 849.6,527.2 849.9,518.6 850.1,507.8 850.4,503.7 850.7,509.4 850.9,513.3 851.2,517.1 851.5,517.4 851.8,512.1 852.0,502.9 852.3,503.2 852.6,497.6 852.8,503.2 853.1,500.2 853.4,500.1 853.6,510.8 853.9,522.1 854.2,525.4 854.4,519.7 854.7,499.4 855.0,487.7 855.3,490.5 855.5,495.2 855.8,513.7 856.1,519.3 856.3,522.9 856.6,522.9 856.9,508.3 857.1,500.7 857.4,492.2 857.7,503.2 858.0,503.3 858.2,505.2 858.5,506.4 858.8,509.7 859.0,506.6 859.3,505.0 859.6,507.8 859.9,505.4 860.1,508.0 860.4,506.2 860.7,517.7 860.9,510.7 861.2,504.3 861.5,503.8 861.7,505.4 862.0,500.0 862.3,496.6 862.5,494.9 862.8,502.9 863.1,504.6 863.4,497.9 863.6,498.4 863.9,505.7 864.2,506.6 864.4,508.6 864.7,504.8 865.0,508.5 865.2,497.8 865.5,505.7 865.8,506.3 866.1,503.1 866.3,504.4 866.6,509.7 866.9,509.7 867.1,507.5 867.4,515.0 867.7,515.6 867.9,518.2 868.2,515.8 868.5,517.1 868.8,522.4 869.0,507.4 869.3,501.7 869.6,490.8 869.8,496.1 870.1,490.2 870.4,499.5 870.6,500.0 870.9,514.4 871.2,520.6 871.5,516.3 871.7,514.5 872.0,513.1 872.3,507.1 872.5,507.8 872.8,501.4 873.1,499.8 873.4,503.5 873.6,499.3 873.9,499.7 874.2,500.1 874.4,498.5 874.7,497.6 875.0,503.1 875.2,514.1 875.5,520.7 875.8,519.1 876.0,512.2 876.3,498.1 876.6,493.7 876.9,493.4 877.1,497.4 877.4,503.5 877.7,513.9 877.9,522.7 878.2,523.7 878.5,527.8 878.7,521.4 879.0,511.1 879.3,500.6 879.6,503.3 879.8,502.4 880.1,502.1 880.4,503.3 880.6,507.3 880.9,502.9 881.2,500.2 881.5,499.0 881.7,503.6 882.0,508.4 882.3,512.3 882.5,517.9 882.8,516.6 883.1,514.8 883.3,516.0 883.6,504.7 883.9,499.8 884.1,497.4 884.4,491.1 884.7,492.3 885.0,487.1 885.2,495.9 885.5,502.4 885.8,518.9 886.0,515.8 886.3,515.8 886.6,509.0 886.8,509.9 887.1,496.7 887.4,494.7 887.7,500.4 887.9,503.5 888.2,511.6 888.5,518.2 888.7,524.6 889.0,532.2 889.3,531.2 889.6,519.6 889.8,509.5 890.1,500.6 890.4,493.0 890.6,484.5 890.9,488.9 891.2,497.4 891.4,514.2 891.7,523.2 892.0,518.8 892.2,513.5 892.5,505.8 892.8,504.7 893.1,504.3 893.3,504.6 893.6,503.8 893.9,506.9 894.1,506.9 894.4,499.4 894.7,502.6 894.9,506.9 895.2,510.3 895.5,514.3 895.8,507.3 896.0,506.8 896.3,501.9 896.6,501.8 896.8,500.4 897.1,505.2 897.4,511.1 897.6,519.2 897.9,525.1 898.2,512.9 898.5,506.4 898.7,496.2 899.0,494.4 899.3,504.9 899.5,513.4 899.8,520.3 900.1,513.8 900.4,507.2 900.6,503.6 900.9,501.2 901.2,502.7 901.4,507.4 901.7,509.3 902.0,505.9 902.2,497.7 902.5,493.1 902.8,498.1 903.0,504.7 903.3,504.7 903.6,509.9 903.9,515.7 904.1,521.5 904.4,521.2 904.7,512.1 904.9,507.6 905.2,499.9 905.5,494.7 905.8,513.1 906.0,530.0 906.3,512.2 906.6,498.1 906.8,505.3 907.1,517.5 907.4,512.4 907.6,517.1 907.9,515.3 908.2,508.1 908.4,498.5 908.7,497.9 909.0,499.0 909.3,504.6 909.5,514.6 909.8,520.2 910.1,517.2 910.3,508.1 910.6,500.4 910.9,496.4 911.1,493.7 911.4,496.9 911.7,499.8 912.0,512.1 912.2,515.3 912.5,504.6 912.8,502.6 913.0,502.5 913.3,506.3 913.6,503.6 913.9,496.1 914.1,496.4 914.4,501.9 914.7,516.1 914.9,525.1 915.2,524.6 915.5,520.2 915.7,510.9 916.0,508.9 916.3,505.2 916.5,511.7 916.8,507.9 917.1,506.5 917.4,494.7 917.6,500.8 917.9,502.1 918.2,516.3 918.4,510.1 918.7,509.2 919.0,514.4 919.2,505.7 919.5,498.2 919.8,491.8 920.1,501.9 920.3,507.4 920.6,510.5 920.9,507.4 921.1,508.8 921.4,506.8 921.7,502.1 922.0,503.0 922.2,507.5 922.5,509.7 922.8,515.8 923.0,514.4 923.3,514.4 923.6,505.3 923.8,501.6 924.1,501.5 924.4,505.1 924.6,504.0 924.9,507.7 925.2,513.7 925.5,517.6 925.7,520.9 926.0,514.7 926.3,492.2 926.5,492.7 926.8,487.8 927.1,491.3 927.3,496.6 927.6,506.5 927.9,515.1 928.2,517.7 928.4,512.1 928.7,506.7 929.0,499.7 929.2,490.9 929.5,495.2 929.8,508.9 930.1,513.5 930.3,509.4 930.6,495.9 930.9,492.3 931.1,487.7 931.4,496.6 931.7,498.2 931.9,507.1 932.2,500.9 932.5,509.7 932.8,521.2 933.0,530.0 933.3,524.6 933.6,512.8 933.8,505.2 934.1,513.2 934.4,512.5 934.6,523.0 934.9,519.8 935.2,510.9 935.4,510.7 935.7,507.8 936.0,503.9 936.3,498.3 936.5,493.3 936.8,497.3 937.1,502.3 937.3,508.4 937.6,506.8 937.9,508.5 938.1,517.2 938.4,509.3 938.7,485.1 939.0,467.6 939.2,479.6 939.5,493.1 939.8,507.2 940.0,503.0 940.3,514.3 940.6,512.3 940.9,506.6 941.1,494.7 941.4,491.5 941.7,497.4 941.9,504.3 942.2,510.6 942.5,504.7 942.7,499.2 943.0,497.1 943.3,505.9 943.5,505.1 943.8,510.1 944.1,506.1 944.4,507.1 944.6,498.9 944.9,489.9 945.2,516.5 945.4,534.0 945.7,523.9 946.0,511.8 946.2,513.8 946.5,506.2 946.8,506.0 947.1,506.8 947.3,496.4 947.6,492.1 947.9,498.7 948.1,499.3 948.4,503.9 948.7,500.3 948.9,514.2 949.2,505.5 949.5,494.8 949.8,488.5 950.0,487.6 950.3,506.1 950.6,508.7 950.8,515.2 951.1,511.8 951.4,505.8 951.6,505.6 951.9,503.9 952.2,497.5 952.5,504.3 952.7,503.4 953.0,510.8 953.3,510.7 953.5,507.5 953.8,509.9 954.1,502.1 954.4,506.1 954.6,499.2 954.9,505.1 955.2,509.4 955.4,508.1 955.7,500.9 956.0,505.6 956.2,506.6 956.5,499.1 956.8,506.5 957.0,504.5 957.3,502.4 957.6,502.6 957.9,499.5 958.1,499.6 958.4,503.2 958.7,502.3 958.9,498.5 959.2,507.2 959.5,498.1 959.7,497.2 960.0,503.4 960.3,507.8 960.6,508.6 960.8,499.6 961.1,495.7 961.4,496.2 961.6,493.0 961.9,501.6 962.2,507.3 962.5,515.9 962.7,513.0 963.0,510.5 963.3,501.2 963.5,492.6 963.8,492.5 964.1,500.0 964.3,498.7 964.6,507.1 964.9,502.7 965.1,502.8 965.4,503.9 965.7,501.7 966.0,499.1 966.2,499.9 966.5,507.0 966.8,517.8 967.0,524.4 967.3,521.0 967.6,510.0 967.8,501.7 968.1,497.9 968.4,500.9 968.7,504.9 968.9,507.8 969.2,512.8 969.5,509.4 969.7,512.8 970.0,504.4 970.3,495.1 970.5,490.7 970.8,492.0 971.1,503.5 971.4,515.6 971.6,527.0 971.9,524.0 972.2,514.1 972.4,512.2 972.7,513.5 973.0,515.1 973.2,512.6 973.5,510.2 973.8,496.9 974.1,498.2 974.3,507.5 974.6,524.0 974.9,534.0 975.1,528.5 975.4,511.2 975.7,515.4 975.9,508.3 976.2,510.1 976.5,505.1 976.8,507.4 977.0,507.2 977.3,517.1 977.6,518.9 977.8,522.5 978.1,524.6 978.4,495.1 978.6,477.6 978.9,490.6 979.2,502.7 979.5,507.1 979.7,510.6 980.0,509.0 980.3,509.7 980.5,504.9 980.8,504.9 981.1,502.6 981.4,505.9 981.6,502.8 981.9,507.9 982.2,500.0 982.4,496.7 982.7,496.7 983.0,490.3 983.2,490.7 983.5,498.4 983.8,510.7 984.0,509.5 984.3,502.3 984.6,494.5 984.9,490.9 985.1,488.8 985.4,493.7 985.7,501.5 985.9,514.5 986.2,512.4 986.5,509.5 986.8,508.1 987.0,504.6 987.3,509.8 987.6,515.8 987.8,506.5 988.1,499.7 988.4,496.6 988.6,499.4 988.9,499.2 989.2,501.6 989.4,513.3 989.7,513.3 990.0,525.7 990.3,528.2 990.5,518.6 990.8,501.6 991.1,494.3 991.3,487.8 991.6,491.8 991.9,500.3 992.1,508.8 992.4,531.5 992.7,543.0 993.0,532.6 993.2,514.5 993.5,504.5 993.8,496.4 994.0,502.1 994.3,498.2 994.6,511.0 994.9,513.8 995.1,511.3 995.4,510.8 995.7,508.3 995.9,506.1 996.2,509.0 996.5,504.5 996.7,501.4 997.0,500.2 997.3,498.5 997.5,506.9 997.8,502.8 998.1,502.1 998.4,499.9 998.6,491.8 998.9,499.8 999.2,502.5 999.4,497.4 999.7,498.2 1000.0,495.5 1000.2,493.6 1000.5,497.8 1000.8,499.9 1001.1,508.4 1001.3,504.0 1001.6,512.6 1001.9,516.9 1002.1,510.3 1002.4,502.4 1002.7,499.8 1003.0,503.0 1003.2,498.2 1003.5,506.3 1003.8,510.7 1004.0,517.5 1004.3,510.3 1004.6,513.2 1004.8,505.9 1005.1,504.1 1005.4,488.1 1005.6,482.2 1005.9,486.8 1006.2,498.8 1006.5,499.2 1006.7,505.7 1007.0,514.7 1007.3,522.6 1007.5,520.6 1007.8,523.7 1008.1,510.5 1008.3,504.3 1008.6,520.5 1008.9,537.8 1009.2,519.8 1009.4,503.8 1009.7,511.5 1010.0,522.6 1010.2,512.0 1010.5,512.3 1010.8,513.3 1011.0,511.8 1011.3,511.8 1011.6,508.5 1011.9,493.2 1012.1,478.5 1012.4,490.1 1012.7,507.2 1012.9,503.3 1013.2,502.7 1013.5,510.9 1013.8,508.1 1014.0,506.9 1014.3,506.2 1014.6,508.1 1014.8,510.5 1015.1,512.9 1015.4,504.1 1015.6,500.9 1015.9,505.2 1016.2,506.7 1016.4,509.0 1016.7,501.4 1017.0,499.5 1017.3,493.7 1017.5,490.1 1017.8,500.7 1018.1,511.6 1018.3,526.5 1018.6,525.1 1018.9,529.4 1019.1,518.5 1019.4,501.9 1019.7,499.9 1020.0,503.5 1020.2,505.1 1020.5,500.5 1020.8,513.2 1021.0,515.2 1021.3,507.4 1021.6,506.1 1021.9,506.0 1022.1,501.3 1022.4,496.7 1022.7,501.8 1022.9,502.8 1023.2,510.7 1023.5,514.6 1023.7,510.8 1024.0,509.0 1024.3,497.4 1024.5,503.3 1024.8,500.1 1025.1,504.5 1025.4,501.0 1025.6,502.8 1025.9,497.9 1026.2,503.0 1026.4,493.7 1026.7,493.1 1027.0,496.9 1027.2,513.7 1027.5,517.0 1027.8,520.9 1028.1,516.8 1028.3,507.5 1028.6,494.4 1028.9,489.9 1029.1,490.3 1029.4,501.4 1029.7,509.3 1029.9,518.7 1030.2,518.3 1030.5,514.9 1030.8,506.1 1031.0,493.1 1031.3,483.8 1031.6,480.6 1031.8,486.6 1032.1,507.0 1032.4,515.9 1032.7,521.5 1032.9,513.8 1033.2,512.1 1033.5,499.8 1033.7,496.2 1034.0,487.6 1034.3,489.9 1034.5,501.4 1034.8,500.9 1035.1,511.4 1035.3,519.8 1035.6,525.6 1035.9,515.1 1036.2,508.5 1036.4,506.7 1036.7,501.6 1037.0,505.5 1037.2,511.6 1037.5,510.0 1037.8,509.7 1038.0,513.0 1038.3,505.6 1038.6,509.9 1038.9,508.6 1039.1,514.2 1039.4,507.5 1039.7,506.8 1039.9,506.8 1040.2,510.9 1040.5,503.6 1040.8,501.7 1041.0,506.6 1041.3,513.5 1041.6,509.0 1041.8,508.9 1042.1,504.5 1042.4,507.0 1042.6,513.9 1042.9,511.3 1043.2,501.2 1043.5,500.3 1043.7,505.6 1044.0,502.2 1044.3,505.9 1044.5,513.1 1044.8,513.0 1045.1,513.0 1045.3,508.4 1045.6,501.1 1045.9,507.6 1046.2,511.2 1046.4,511.5 1046.7,511.2 1047.0,497.7 1047.2,496.7 1047.5,493.5 1047.8,493.3 1048.0,506.2 1048.3,509.6 1048.6,518.5 1048.8,517.2 1049.1,512.5 1049.4,504.7 1049.7,502.4 1049.9,499.6 1050.2,505.3 1050.5,508.8 1050.7,513.2 1051.0,502.6 1051.3,504.9 1051.5,505.6 1051.8,503.6 1052.1,491.1 1052.4,494.5 1052.6,499.7 1052.9,510.7 1053.2,515.6 1053.4,508.1 1053.7,500.7 1054.0,495.3 1054.2,492.5 1054.5,497.2 1054.8,503.5 1055.1,513.1 1055.3,518.7 1055.6,513.7 1055.9,508.2 1056.1,499.0 1056.4,494.1 1056.7,497.8 1056.9,499.6 1057.2,506.8 1057.5,520.2 1057.8,522.1 1058.0,513.1 1058.3,513.8 1058.6,510.5 1058.8,514.7 1059.1,514.1 1059.4,508.2 1059.7,499.3 1059.9,491.7 1060.2,492.4 1060.5,501.4 1060.7,503.7 1061.0,504.1 1061.3,498.3 1061.5,493.4 1061.8,492.3 1062.1,487.5 1062.3,500.3 1062.6,515.0 1062.9,521.6 1063.2,519.7 1063.4,510.0 1063.7,503.5 1064.0,499.8 1064.2,489.8 1064.5,490.4 1064.8,488.8 1065.0,501.8 1065.3,506.4 1065.6,510.1 1065.9,524.2 1066.1,534.0 1066.4,521.4 1066.7,510.5 1066.9,516.6 1067.2,507.2 1067.5,503.7 1067.8,508.1 1068.0,504.1 1068.3,501.9 1068.6,506.4 1068.8,506.8 1069.1,504.3 1069.4,503.3 1069.6,504.8 1069.9,513.6 1070.2,512.1 1070.4,518.0 1070.7,503.5 1071.0,496.8 1071.3,498.8 1071.5,503.9 1071.8,504.2 1072.1,516.0 1072.3,518.5 1072.6,523.0 1072.9,520.3 1073.2,516.2 1073.4,515.6 1073.7,506.6 1074.0,503.4 1074.2,504.9 1074.5,508.8 1074.8,512.8 1075.0,509.7 1075.3,509.7 1075.6,511.1 1075.8,503.0 1076.1,506.6 1076.4,505.5 1076.7,507.2 1076.9,503.8 1077.2,508.3 1077.5,508.2 1077.7,502.2 1078.0,499.6 1078.3,498.2 1078.5,504.9 1078.8,508.0 1079.1,514.7 1079.4,520.2 1079.6,532.9 1079.9,527.9 1080.2,516.1 1080.4,502.4 1080.7,496.3 1081.0,480.9 1081.2,487.0 1081.5,497.5 1081.8,503.3 1082.1,508.1 1082.3,506.0 1082.6,508.7 1082.9,514.6 1083.1,515.9 1083.4,514.1 1083.7,512.7 1084.0,509.5 1084.2,511.0 1084.5,503.9 1084.8,502.5 1085.0,502.1 1085.3,494.1 1085.6,491.3 1085.8,497.6 1086.1,511.3 1086.4,511.5 1086.7,512.5 1086.9,510.9 1087.2,504.1 1087.5,505.0 1087.7,511.5 1088.0,510.8 1088.3,513.2 1088.5,517.0 1088.8,503.9 1089.1,499.0 1089.3,500.1 1089.6,501.7 1089.9,509.2 1090.2,518.6 1090.4,517.4 1090.7,515.0 1091.0,504.0 1091.2,502.2 1091.5,499.5 1091.8,504.0 1092.0,508.7 1092.3,515.0 1092.6,512.3 1092.9,520.5 1093.1,526.4 1093.4,522.1 1093.7,514.6 1093.9,504.4 1094.2,483.7 1094.5,477.6 1094.8,485.7 1095.0,504.0 1095.3,514.6 1095.6,518.9 1095.8,509.8 1096.1,508.8 1096.4,499.6 1096.6,492.7 1096.9,487.3 1097.2,488.2 1097.4,497.4 1097.7,502.2 1098.0,514.1 1098.3,510.2 1098.5,503.2 1098.8,498.8 1099.1,500.7 1099.3,494.4 1099.6,496.9 1099.9,504.1 1100.2,514.6 1100.4,513.2 1100.7,507.8 1101.0,502.4 1101.2,492.0 1101.5,496.7 1101.8,501.7 1102.0,514.9 1102.3,526.0 1102.6,530.5 1102.8,520.8 1103.1,517.8 1103.4,503.6 1103.7,494.7 1103.9,490.9 1104.2,502.3 1104.5,510.1 1104.7,512.4 1105.0,519.0 1105.3,529.4 1105.5,517.4 1105.8,505.6 1106.1,497.7 1106.4,490.9 1106.6,490.2 1106.9,490.6 1107.2,497.5 1107.4,505.2 1107.7,506.9 1108.0,505.3 1108.2,508.6 1108.5,502.7 1108.8,508.6 1109.1,524.0 1109.3,516.3 1109.6,512.5 1109.9,507.2 1110.1,502.9 1110.4,503.1 1110.7,500.1 1110.9,503.6 1111.2,505.0 1111.5,508.4 1111.8,508.1 1112.0,505.6 1112.3,514.6 1112.6,509.3 1112.8,512.2 1113.1,510.5 1113.4,500.7 1113.7,501.5 1113.9,506.0 1114.2,519.6 1114.5,519.1 1114.7,519.2 1115.0,507.2 1115.3,495.9 1115.5,489.1 1115.8,489.2 1116.1,502.5 1116.3,505.8 1116.6,517.5 1116.9,513.0 1117.2,506.3 1117.4,498.9 1117.7,503.6 1118.0,498.3 1118.2,503.6 1118.5,503.0 1118.8,498.6 1119.0,493.3 1119.3,499.5 1119.6,495.8 1119.9,491.7 1120.1,505.3 1120.4,512.6 1120.7,508.6 1120.9,504.0 1121.2,492.8 1121.5,494.9 1121.8,497.9 1122.0,509.0 1122.3,510.7 1122.6,512.9 1122.8,511.4 1123.1,503.0 1123.4,504.0 1123.6,513.2 1123.9,527.3 1124.2,524.2 1124.5,507.1 1124.7,501.0 1125.0,497.1 1125.3,488.8 1125.5,501.5 1125.8,516.2 1126.1,529.2 1126.3,525.5 1126.6,514.3 1126.9,501.0 1127.2,488.6 1127.4,493.1 1127.7,496.7 1128.0,506.0 1128.2,510.6 1128.5,508.4 1128.8,511.6 1129.0,513.8 1129.3,511.0 1129.6,512.8 1129.8,510.8 1130.1,506.6 1130.4,497.7 1130.7,502.1 1130.9,504.1 1131.2,504.4 1131.5,503.8 1131.7,511.0 1132.0,512.6 1132.3,518.3 1132.5,516.6 1132.8,513.2 1133.1,501.5 1133.4,492.7 1133.6,493.9 1133.9,496.7 1134.2,506.8 1134.4,508.1 1134.7,506.1 1135.0,506.1 1135.2,497.1 1135.5,501.4 1135.8,496.3 1136.1,498.8 1136.3,496.0 1136.6,499.2 1136.9,505.7 1137.1,504.8 1137.4,504.1 1137.7,505.3 1137.9,505.6 1138.2,509.4 1138.5,507.7 1138.8,515.1 1139.0,507.3 1139.3,503.2 1139.6,510.2 1139.8,516.3 1140.1,520.3 1140.4,518.4 1140.7,506.1 1140.9,508.7 1141.2,502.2 1141.5,500.1 1141.7,496.7 1142.0,498.9 1142.3,503.6 1142.5,504.8 1142.8,513.7 1143.1,522.3 1143.3,520.7 1143.6,520.2 1143.9,503.7 1144.2,503.7 1144.4,500.3 1144.7,493.0 1145.0,494.6 1145.2,503.5 1145.5,506.9 1145.8,514.5 1146.0,518.0 1146.3,508.7 1146.6,509.1 1146.9,497.3 1147.1,491.7 1147.4,495.5 1147.7,501.4 1147.9,512.3 1148.2,520.5 1148.5,516.5 1148.8,515.3 1149.0,506.5 1149.3,508.2 1149.6,507.1 1149.8,522.5 1150.1,532.7 1150.4,520.1 1150.6,502.5 1150.9,501.3 1151.2,495.6 1151.4,491.7 1151.7,490.6 1152.0,493.1 1152.3,490.4 1152.5,495.0 1152.8,504.1 1153.1,507.1 1153.3,513.6 1153.6,493.0 1153.9,473.7 1154.2,495.1 1154.4,509.6 1154.7,502.5 1155.0,493.6 1155.2,488.7 1155.5,499.2 1155.8,513.1 1156.0,521.7 1156.3,520.6 1156.6,519.9 1156.8,512.3 1157.1,508.2 1157.4,502.2 1157.7,497.3 1157.9,497.6 1158.2,506.6 1158.5,501.7 1158.7,500.4 1159.0,506.0 1159.3,514.9 1159.5,514.9 1159.8,520.3 1160.1,526.4 1160.4,517.2 1160.6,510.6 1160.9,506.7 1161.2,502.8 1161.4,503.4 1161.7,498.7 1162.0,491.7 1162.2,495.4 1162.5,502.9 1162.8,512.3 1163.1,513.8 1163.3,510.4 1163.6,506.4 1163.9,504.8 1164.1,505.3 1164.4,508.4 1164.7,502.3 1165.0,503.2 1165.2,497.5 1165.5,495.5 1165.8,500.4 1166.0,510.4 1166.3,509.7 1166.6,522.0 1166.8,517.2 1167.1,509.9 1167.4,499.4 1167.7,492.6 1167.9,490.1 1168.2,493.8 1168.5,503.0 1168.7,510.6 1169.0,515.4 1169.3,517.2 1169.5,521.3 1169.8,515.1 1170.1,504.1 1170.3,503.0 1170.6,508.1 1170.9,510.5 1171.2,499.9 1171.4,500.9 1171.7,497.6 1172.0,498.5 1172.2,510.9 1172.5,513.8 1172.8,517.3 1173.0,506.3 1173.3,506.5 1173.6,499.8 1173.9,499.3 1174.1,499.1 1174.4,505.1 1174.7,514.4 1174.9,517.1 1175.2,513.5 1175.5,502.2 1175.8,517.8 1176.0,529.7 1176.3,516.6 1176.6,501.1 1176.8,509.8 1177.1,518.2 1177.4,513.5 1177.6,514.8 1177.9,509.4 1178.2,506.0 1178.4,502.8 1178.7,513.5 1179.0,514.3 1179.3,517.6 1179.5,515.3 1179.8,495.4 1180.1,480.6 1180.3,494.6 1180.6,506.7 1180.9,512.0 1181.2,513.8 1181.4,520.3 1181.7,513.4 1182.0,503.8 1182.2,491.9 1182.5,480.9 1182.8,491.6 1183.0,505.2 1183.3,509.0 1183.6,511.2 1183.8,518.1 1184.1,517.2 1184.4,513.9 1184.7,512.7 1184.9,510.4 1185.2,507.5 1185.5,509.8 1185.7,509.5 1186.0,517.3 1186.3,503.5 1186.5,496.4 1186.8,499.4 1187.1,503.3 1187.4,505.4 1187.6,499.3 1187.9,494.5 1188.2,494.4 1188.4,499.5 1188.7,499.9 1189.0,504.7 1189.2,509.2 1189.5,504.1 1189.8,500.2 1190.1,494.4 1190.3,492.5 1190.6,490.7 1190.9,495.9 1191.1,499.7 1191.4,505.3 1191.7,514.7 1191.9,516.8 1192.2,505.2 1192.5,495.1 1192.8,489.0 1193.0,490.8 1193.3,498.4 1193.6,507.3 1193.8,516.0 1194.1,517.4 1194.4,514.5 1194.7,512.1 1194.9,496.7 1195.2,495.0 1195.5,494.9 1195.7,503.7 1196.0,504.1 1196.3,506.1 1196.5,512.9 1196.8,507.8 1197.1,510.8 1197.3,514.3 1197.6,506.5 1197.9,508.2 1198.2,510.3 1198.4,509.7 1198.7,505.1 1199.0,503.5 1199.2,505.5 1199.5,516.4 1199.8,525.2 1200.0,524.4 1200.3,514.9 1200.6,508.2 1200.9,502.8 1201.1,499.5 1201.4,505.1 1201.7,509.1 1201.9,512.0 1202.2,516.4 1202.5,510.3 1202.8,514.9 1203.0,514.8 1203.3,504.6 1203.6,487.2 1203.8,485.3 1204.1,482.0 1204.4,487.6 1204.6,501.0 1204.9,507.0 1205.2,519.3 1205.5,519.8 1205.7,515.6 1206.0,512.3 1206.3,498.8 1206.5,493.1 1206.8,490.6 1207.1,492.5 1207.3,492.0 1207.6,496.5 1207.9,508.8 1208.2,519.2 1208.4,520.6 1208.7,511.8 1209.0,508.7 1209.2,504.1 1209.5,494.8 1209.8,488.8 1210.0,487.9 1210.3,491.2 1210.6,502.6 1210.8,514.6 1211.1,517.8 1211.4,516.5 1211.7,516.1 1211.9,500.5 1212.2,493.6 1212.5,492.2 1212.7,493.9 1213.0,499.2 1213.3,508.4 1213.5,505.3 1213.8,507.6 1214.1,505.4 1214.4,508.9 1214.6,504.3 1214.9,513.4 1215.2,514.2 1215.4,518.4 1215.7,506.8 1216.0,508.3 1216.2,509.6 1216.5,516.5 1216.8,513.1 1217.1,502.6 1217.3,503.5 1217.6,504.9 1217.9,502.2 1218.1,498.7 1218.4,496.8 1218.7,499.7 1218.9,500.4 1219.2,496.7 1219.5,490.8 1219.8,499.7 1220.0,509.6 1220.3,511.6 1220.6,502.0 1220.8,506.9 1221.1,514.0 1221.4,508.1 1221.7,503.7 1221.9,504.4 1222.2,506.0 1222.5,506.1 1222.7,506.7 1223.0,512.9 1223.3,502.1 1223.5,499.7 1223.8,510.0 1224.1,506.5 1224.3,507.0 1224.6,499.3 1224.9,487.0 1225.2,497.0 1225.4,499.3 1225.7,500.9 1226.0,506.5 1226.2,501.0 1226.5,505.5 1226.8,506.4 1227.0,501.0 1227.3,498.1 1227.6,500.7 1227.9,506.3 1228.1,508.8 1228.4,507.3 1228.7,513.2 1228.9,499.2 1229.2,499.2 1229.5,490.8 1229.8,497.0 1230.0,497.6 1230.3,504.1 1230.6,499.2 1230.8,502.6 1231.1,506.1 1231.4,505.2 1231.6,508.4 1231.9,507.6 1232.2,508.3 1232.4,506.3 1232.7,514.9 1233.0,515.1 1233.3,510.5 1233.5,504.1 1233.8,507.1 1234.1,500.0 1234.3,493.4 1234.6,484.5 1234.9,498.8 1235.2,510.6 1235.4,507.2 1235.7,504.1 1236.0,505.4 1236.2,506.5 1236.5,499.4 1236.8,510.2 1237.0,517.9 1237.3,512.5 1237.6,507.8 1237.8,497.9 1238.1,483.5 1238.4,491.3 1238.7,496.4 1238.9,506.3 1239.2,511.1 1239.5,500.9 1239.7,506.7 1240.0,506.5 1240.3,501.0 1240.5,494.4 1240.8,490.1 1241.1,498.1 1241.4,506.7 1241.6,499.5 1241.9,502.0 1242.2,500.6 1242.4,494.7 1242.7,499.4 1243.0,505.3 1243.2,505.7 1243.5,498.6 1243.8,493.6 1244.1,497.1 1244.3,502.5 1244.6,512.4 1244.9,522.1 1245.1,520.6 1245.4,512.1 1245.7,510.7 1246.0,506.0 1246.2,510.1 1246.5,507.8 1246.8,514.2 1247.0,512.2 1247.3,512.2 1247.6,508.3 1247.8,497.8 1248.1,498.7 1248.4,507.9 1248.7,509.1 1248.9,514.2 1249.2,505.7 1249.5,506.7 1249.7,502.2 1250.0,502.4 1250.3,510.5 1250.5,519.2 1250.8,514.4 1251.1,516.2 1251.3,512.0 1251.6,510.5 1251.9,503.8 1252.2,505.3 1252.4,507.7 1252.7,515.6 1253.0,515.8 1253.2,517.0 1253.5,511.3 1253.8,492.8 1254.0,486.1 1254.3,484.8 1254.6,490.7 1254.9,497.8 1255.1,510.8 1255.4,515.3 1255.7,510.5 1255.9,504.6 1256.2,491.0 1256.5,492.3 1256.8,492.3 1257.0,496.5 1257.3,500.2 1257.6,503.5 1257.8,509.3 1258.1,520.5 1258.4,509.4 1258.6,498.7 1258.9,494.7 1259.2,496.3 1259.4,494.7 1259.7,505.7 1260.0,516.1 1260.3,527.7 1260.5,523.6 1260.8,516.2 1261.1,503.3 1261.3,489.6 1261.6,485.0 1261.9,486.1 1262.2,490.6 1262.4,517.5 1262.7,528.6 1263.0,525.6 1263.2,522.9 1263.5,515.6 1263.8,501.7 1264.0,494.9 1264.3,493.1 1264.6,498.6 1264.8,505.6 1265.1,514.8 1265.4,508.5 1265.7,504.4 1265.9,504.4 1266.2,498.0 1266.5,501.0 1266.7,502.2 1267.0,501.0 1267.3,505.6 1267.5,516.1 1267.8,525.0 1268.1,520.4 1268.4,515.0 1268.6,506.0 1268.9,492.8 1269.2,484.4 1269.4,485.3 1269.7,493.3 1270.0,496.8 1270.2,499.2 1270.5,498.4 1270.8,503.1 1271.1,504.3 1271.3,505.5 1271.6,505.6 1271.9,501.6 1272.1,505.7 1272.4,496.1 1272.7,489.7 1272.9,487.9 1273.2,490.1 1273.5,493.0 1273.8,498.1 1274.0,502.2 1274.3,500.3 1274.6,511.6 1274.8,511.5 1275.1,512.4 1275.4,504.9 1275.6,507.1 1275.9,497.1 1276.2,503.3 1276.5,513.2 1276.7,505.8 1277.0,513.1 1277.3,509.6 1277.5,503.0 1277.8,496.6 1278.1,493.2 1278.3,497.1 1278.6,494.9 1278.9,509.1 1279.2,508.8 1279.4,505.8 1279.7,500.6 1280.0,491.2 1280.2,495.5 1280.5,499.4 1280.8,504.7 1281.0,500.0 1281.3,505.9 1281.6,515.2 1281.9,513.0 1282.1,514.6 1282.4,507.2 1282.7,506.1 1282.9,517.6 1283.2,511.0 1283.5,505.0 1283.8,497.4 1284.0,489.3 1284.3,492.0 1284.6,500.4 1284.8,513.8 1285.1,515.9 1285.4,512.5 1285.6,505.2 1285.9,504.4 1286.2,499.0 1286.5,495.3 1286.7,497.4 1287.0,501.6 1287.3,504.6 1287.5,508.9 1287.8,509.1 1288.1,505.1 1288.3,506.6 1288.6,507.9 1288.9,503.3 1289.2,494.5 1289.4,491.8 1289.7,489.2 1290.0,496.0 1290.2,513.1 1290.5,513.8 1290.8,515.1 1291.0,514.7 1291.3,503.1 1291.6,502.9 1291.8,499.6 1292.1,504.9 1292.4,511.6 1292.7,509.3 1292.9,515.6 1293.2,517.1 1293.5,514.8 1293.7,502.1 1294.0,502.6 1294.3,499.6 1294.5,496.8 1294.8,494.6 1295.1,504.0 1295.4,506.6 1295.6,495.5 1295.9,486.6 1296.2,496.6 1296.4,499.2 1296.7,507.4 1297.0,509.5" fill="none" stroke="#000" stroke-width="1.1" stroke-linejoin="round" stroke-linecap="round" stroke-miterlimit="2"/>
<polyline points="325.2,507.0 325.8,507.3 326.3,507.8 326.9,508.2 327.4,508.3 327.9,507.9 328.5,507.6 329.0,507.9 329.6,508.5 330.1,508.6 330.6,508.7 331.2,509.1 331.7,509.2 332.3,508.8 332.8,508.2 333.4,508.1 333.9,507.7 334.4,508.5 335.0,508.1 335.5,507.6 336.1,508.3 336.6,508.0 337.1,507.1 337.7,507.1 338.2,507.2 338.8,507.3 339.3,507.7 339.8,507.5 340.4,506.8 340.9,507.2 341.4,508.4 342.0,508.2 342.5,508.4 343.1,508.5 343.6,509.1 344.1,509.2 344.7,510.5 345.2,510.5 345.8,511.1 346.3,511.6 346.9,511.0 347.4,510.6 347.9,511.9 348.5,511.9 349.0,510.9 349.6,510.4 350.1,510.4 350.6,510.8 351.2,511.2 351.7,511.0 352.2,510.1 352.8,509.8 353.3,509.0 353.9,508.3 354.4,508.7 354.9,509.3 355.5,509.0 356.0,508.6 356.6,509.4 357.1,509.1 357.6,508.7 358.2,508.6 358.7,508.7 359.3,508.6 359.8,508.0 360.4,508.2 360.9,508.8 361.4,508.8 362.0,508.7 362.5,508.7 363.1,508.4 363.6,508.2 364.1,509.1 364.7,510.4 365.2,510.4 365.8,509.7 366.3,509.3 366.8,509.0 367.4,508.8 367.9,509.1 368.4,509.7 369.0,509.7 369.5,508.2 370.1,507.0 370.6,507.8 371.1,508.9 371.7,509.8 372.2,509.9 372.8,508.9 373.3,508.4 373.9,508.6 374.4,508.8 374.9,508.6 375.5,507.7 376.0,506.3 376.6,505.7 377.1,505.7 377.6,506.2 378.2,505.8 378.7,505.1 379.2,505.2 379.8,505.7 380.3,506.5 380.9,507.4 381.4,507.7 381.9,508.3 382.5,508.0 383.0,507.0 383.6,507.1 384.1,508.0 384.6,508.1 385.2,508.3 385.7,507.7 386.3,506.8 386.8,507.7 387.4,509.5 387.9,509.2 388.4,508.0 389.0,509.1 389.5,510.9 390.1,510.8 390.6,509.9 391.1,509.1 391.7,509.3 392.2,510.2 392.8,509.4 393.3,508.5 393.8,508.4 394.4,509.1 394.9,509.7 395.4,509.5 396.0,508.9 396.5,508.6 397.1,509.0 397.6,509.9 398.1,509.5 398.7,508.4 399.2,509.1 399.8,509.4 400.3,508.2 400.9,506.8 401.4,506.4 401.9,506.8 402.5,507.5 403.0,507.3 403.6,507.0 404.1,507.4 404.6,507.7 405.2,507.4 405.7,506.6 406.2,506.1 406.8,506.8 407.3,507.2 407.9,507.3 408.4,506.6 408.9,505.7 409.5,506.1 410.0,506.4 410.6,506.7 411.1,507.0 411.6,507.5 412.2,508.4 412.7,509.0 413.3,508.6 413.8,506.6 414.4,506.6 414.9,506.7 415.4,506.1 416.0,505.7 416.5,506.0 417.1,506.6 417.6,506.6 418.1,505.6 418.7,506.1 419.2,507.0 419.8,507.1 420.3,507.1 420.8,506.7 421.4,507.2 421.9,507.9 422.4,508.6 423.0,508.4 423.5,508.3 424.1,507.8 424.6,509.1 425.1,509.7 425.7,510.1 426.2,510.3 426.8,510.7 427.3,510.7 427.9,510.9 428.4,510.3 428.9,510.1 429.5,510.5 430.0,511.2 430.6,511.9 431.1,511.6 431.6,511.1 432.2,511.6 432.7,511.2 433.2,511.2 433.8,510.8 434.3,509.9 434.9,509.7 435.4,510.1 435.9,510.7 436.5,510.3 437.0,509.9 437.6,509.3 438.1,508.5 438.6,507.4 439.2,507.4 439.7,507.9 440.3,507.6 440.8,506.7 441.4,506.0 441.9,506.4 442.4,507.9 443.0,508.6 443.5,508.2 444.0,507.5 444.6,506.2 445.1,506.1 445.7,506.8 446.2,506.9 446.8,506.4 447.3,505.7 447.8,505.0 448.4,505.5 448.9,506.3 449.4,506.9 450.0,507.9 450.5,508.6 451.1,509.7 451.6,509.7 452.1,508.9 452.7,508.4 453.2,508.8 453.8,508.2 454.3,506.9 454.9,505.9 455.4,505.4 455.9,505.9 456.5,506.6 457.0,506.8 457.5,506.7 458.1,506.5 458.6,507.1 459.2,508.0 459.7,509.0 460.2,509.7 460.8,510.2 461.3,510.0 461.9,509.8 462.4,510.1 462.9,511.2 463.5,511.1 464.0,510.2 464.6,509.6 465.1,510.8 465.6,511.9 466.2,512.0 466.7,511.8 467.3,511.4 467.8,510.2 468.4,510.1 468.9,509.8 469.4,509.0 470.0,508.5 470.5,508.0 471.0,506.9 471.6,506.2 472.1,505.6 472.7,505.7 473.2,505.8 473.8,505.3 474.3,504.8 474.8,504.8 475.4,505.2 475.9,505.1 476.5,505.1 477.0,506.0 477.5,507.1 478.1,507.1 478.6,508.7 479.1,509.4 479.7,509.9 480.2,510.5 480.8,511.1 481.3,510.7 481.9,510.2 482.4,510.5 482.9,511.0 483.5,511.7 484.0,511.5 484.6,510.2 485.1,510.3 485.6,511.2 486.2,511.7 486.7,511.8 487.2,511.4 487.8,510.6 488.3,509.9 488.9,510.4 489.4,510.2 489.9,509.1 490.5,508.4 491.0,508.1 491.6,508.4 492.1,509.0 492.6,509.8 493.2,509.9 493.7,509.4 494.3,509.1 494.8,508.0 495.4,508.0 495.9,509.2 496.4,509.7 497.0,509.2 497.5,508.1 498.0,507.6 498.6,508.4 499.1,509.3 499.7,508.8 500.2,508.1 500.8,507.6 501.3,507.0 501.8,507.6 502.4,508.2 502.9,507.3 503.4,506.5 504.0,506.3 504.5,506.0 505.1,505.7 505.6,506.1 506.1,506.7 506.7,506.7 507.2,505.4 507.8,504.6 508.3,505.5 508.9,506.3 509.4,505.9 509.9,505.2 510.5,505.1 511.0,506.1 511.5,507.2 512.1,507.6 512.6,507.8 513.2,507.6 513.7,507.4 514.2,507.4 514.8,507.2 515.3,507.8 515.9,508.3 516.4,508.1 517.0,508.1 517.5,507.5 518.0,506.5 518.6,506.1 519.1,506.5 519.6,506.5 520.2,506.2 520.7,506.3 521.3,506.6 521.8,506.6 522.4,506.3 522.9,507.0 523.4,507.3 524.0,507.0 524.5,506.6 525.0,506.8 525.6,507.9 526.1,508.4 526.7,508.3 527.2,508.6 527.8,509.0 528.3,509.4 528.8,510.1 529.4,510.8 529.9,510.9 530.5,510.2 531.0,509.5 531.5,509.6 532.1,510.6 532.6,511.1 533.1,510.1 533.7,509.3 534.2,509.3 534.8,510.2 535.3,510.5 535.9,509.8 536.4,509.7 536.9,509.2 537.5,508.6 538.0,508.8 538.5,509.3 539.1,509.1 539.6,508.8 540.2,509.3 540.7,509.7 541.2,509.9 541.8,510.1 542.3,510.3 542.9,510.1 543.4,509.3 544.0,510.0 544.5,510.6 545.0,511.7 545.6,510.9 546.1,509.9 546.6,510.9 547.2,511.4 547.7,511.0 548.3,511.3 548.8,511.4 549.4,510.5 549.9,509.5 550.4,509.4 551.0,509.0 551.5,508.4 552.0,508.2 552.6,508.1 553.1,508.3 553.7,508.8 554.2,508.8 554.8,508.9 555.3,508.7 555.8,507.9 556.4,506.5 556.9,507.3 557.5,508.0 558.0,508.5 558.5,507.8 559.1,507.1 559.6,507.1 560.1,507.5 560.7,508.3 561.2,507.9 561.8,507.7 562.3,508.0 562.8,508.9 563.4,510.1 563.9,510.1 564.5,509.4 565.0,508.8 565.5,508.0 566.1,508.0 566.6,508.1 567.2,508.2 567.7,508.0 568.2,508.6 568.8,508.5 569.3,508.0 569.9,508.1 570.4,508.8 571.0,509.1 571.5,508.6 572.0,508.5 572.6,509.4 573.1,510.4 573.6,510.7 574.2,509.7 574.7,508.9 575.3,508.4 575.8,509.6 576.4,510.4 576.9,509.9 577.4,509.4 578.0,510.6 578.5,511.4 579.0,510.5 579.6,509.4 580.1,509.3 580.7,508.9 581.2,508.9 581.8,508.3 582.3,508.9 582.8,508.9 583.4,508.0 583.9,506.5 584.5,505.7 585.0,506.1 585.5,506.9 586.1,508.0 586.6,508.1 587.2,507.3 587.7,507.4 588.2,507.4 588.8,506.8 589.3,506.1 589.8,506.1 590.4,506.6 590.9,507.0 591.5,506.9 592.0,507.6 592.5,507.4 593.1,507.3 593.6,507.0 594.2,507.3 594.7,508.7 595.2,510.0 595.8,509.1 596.3,507.8 596.9,507.2 597.4,507.1 598.0,506.4 598.5,505.0 599.0,505.1 599.6,506.2 600.1,506.6 600.6,506.7 601.2,506.6 601.7,506.1 602.3,506.0 602.8,506.4 603.4,506.5 603.9,506.3 604.4,505.7 605.0,505.8 605.5,505.8 606.0,505.0 606.6,504.7 607.1,505.4 607.7,506.0 608.2,506.0 608.8,506.0 609.3,507.2 609.8,508.2 610.4,507.1 610.9,506.5 611.5,506.9 612.0,507.0 612.5,506.8 613.1,506.4 613.6,505.8 614.1,506.6 614.7,507.7 615.2,508.3 615.8,507.9 616.3,507.4 616.8,507.6 617.4,507.8 617.9,507.6 618.5,507.2 619.0,506.9 619.5,506.8 620.1,507.1 620.6,507.3 621.2,507.5 621.7,507.7 622.2,507.0 622.8,506.3 623.3,506.2 623.9,506.0 624.4,506.4 625.0,506.8 625.5,506.0 626.0,504.9 626.6,505.5 627.1,506.5 627.7,506.8 628.2,507.1 628.7,507.5 629.3,507.6 629.8,508.2 630.3,508.4 630.9,507.9 631.4,507.0 632.0,506.5 632.5,506.9 633.0,507.4 633.6,507.8 634.1,507.5 634.7,508.1 635.2,509.2 635.8,509.3 636.3,509.0 636.8,508.6 637.4,508.7 637.9,508.3 638.5,507.6 639.0,506.9 639.5,507.0 640.1,507.5 640.6,507.2 641.1,506.9 641.7,507.1 642.2,507.2 642.8,508.0 643.3,508.8 643.9,508.7 644.4,508.2 644.9,508.2 645.5,509.5 646.0,509.8 646.5,509.3 647.1,508.4 647.6,508.2 648.2,508.2 648.7,507.8 649.2,507.6 649.8,507.6 650.3,507.7 650.9,507.2 651.4,507.1 652.0,507.2 652.5,507.1 653.0,507.3 653.6,507.5 654.1,507.0 654.6,507.1 655.2,507.5 655.7,507.6 656.3,506.9 656.8,506.0 657.3,506.3 657.9,506.5 658.4,506.4 659.0,505.6 659.5,506.0 660.0,506.3 660.6,506.3 661.1,506.4 661.7,506.6 662.2,506.6 662.8,507.2 663.3,507.3 663.8,507.2 664.4,507.3 664.9,507.3 665.5,507.0 666.0,506.7 666.5,506.6 667.1,506.3 667.6,506.4 668.1,506.2 668.7,506.8 669.2,507.3 669.8,508.1 670.3,508.5 670.8,508.6 671.4,508.9 671.9,508.6 672.5,507.7 673.0,507.1 673.5,506.5 674.1,506.1 674.6,506.5 675.2,506.9 675.7,506.5 676.2,506.4 676.8,506.5 677.3,506.2 677.9,506.1 678.4,506.8 679.0,507.2 679.5,506.9 680.0,506.6 680.6,507.2 681.1,507.4 681.6,507.3 682.2,507.2 682.7,507.8 683.3,509.4 683.8,509.6 684.4,510.3 684.9,510.8 685.4,510.6 686.0,510.3 686.5,510.0 687.0,510.9 687.6,511.4 688.1,510.9 688.7,511.3 689.2,512.2 689.8,511.3 690.3,510.2 690.8,509.7 691.4,510.0 691.9,510.3 692.5,510.3 693.0,509.9 693.5,509.8 694.1,509.0 694.6,509.0 695.1,508.3 695.7,507.8 696.2,507.9 696.8,507.9 697.3,507.9 697.8,508.0 698.4,507.1 698.9,507.2 699.5,508.0 700.0,507.3 700.5,506.8 701.1,508.0 701.6,509.8 702.2,510.0 702.7,508.4 703.2,507.5 703.8,507.7 704.3,508.8 704.9,508.6 705.4,507.3 706.0,506.7 706.5,507.6 707.0,508.5 707.6,508.6 708.1,507.9 708.6,507.5 709.2,507.7 709.7,508.3 710.3,508.1 710.8,508.4 711.3,508.8 711.9,508.7 712.4,507.3 713.0,506.2 713.5,506.7 714.0,507.4 714.6,507.5 715.1,506.8 715.7,506.0 716.2,506.1 716.8,506.7 717.3,507.0 717.8,506.5 718.4,506.2 718.9,506.4 719.5,506.5 720.0,506.7 720.5,505.9 721.1,504.7 721.6,504.0 722.1,503.9 722.7,504.2 723.2,504.4 723.8,504.1 724.3,504.2 724.9,504.2 725.4,504.2 725.9,503.9 726.5,504.4 727.0,505.0 727.5,505.6 728.1,505.8 728.6,504.8 729.2,503.7 729.7,503.7 730.2,504.9 730.8,505.2 731.3,505.4 731.9,505.5 732.4,505.0 733.0,505.9 733.5,506.3 734.0,506.5 734.6,506.4 735.1,506.2 735.6,505.9 736.2,505.6 736.7,506.2 737.3,506.2 737.8,505.3 738.3,504.9 738.9,504.7 739.4,505.0 740.0,505.3 740.5,505.9 741.0,505.1 741.6,503.8 742.1,502.8 742.7,502.9 743.2,504.3 743.8,504.7 744.3,503.8 744.8,503.1 745.4,502.9 745.9,503.3 746.5,504.1 747.0,505.1 747.5,505.1 748.1,504.4 748.6,504.8 749.1,505.6 749.7,505.7 750.2,505.5 750.8,506.3 751.3,506.4 751.8,505.5 752.4,506.1 752.9,507.3 753.5,507.7 754.0,507.7 754.5,507.4 755.1,507.7 755.6,508.1 756.2,507.4 756.7,506.9 757.2,506.7 757.8,506.5 758.3,506.0 758.9,505.2 759.4,505.6 760.0,505.4 760.5,504.8 761.0,505.1 761.6,506.1 762.1,506.3 762.6,506.1 763.2,505.7 763.7,505.2 764.3,505.4 764.8,505.7 765.4,505.4 765.9,504.8 766.4,504.8 767.0,505.5 767.5,506.1 768.0,506.4 768.6,506.4 769.1,506.2 769.7,506.7 770.2,506.6 770.8,506.7 771.3,507.0 771.8,507.4 772.4,506.3 772.9,505.3 773.5,505.9 774.0,506.6 774.5,507.4 775.1,507.3 775.6,506.4 776.1,506.0 776.7,506.7 777.2,507.3 777.8,507.2 778.3,507.1 778.8,507.0 779.4,506.9 779.9,506.8 780.5,506.9 781.0,507.8 781.5,508.2 782.1,508.7 782.6,508.6 783.2,508.7 783.7,508.7 784.2,508.0 784.8,507.5 785.3,507.2 785.9,507.0 786.4,506.4 787.0,506.4 787.5,506.7 788.0,506.5 788.6,506.2 789.1,505.8 789.6,506.4 790.2,507.1 790.7,507.0 791.3,506.7 791.8,506.1 792.3,505.4 792.9,504.1 793.4,503.7 794.0,503.5 794.5,504.4 795.0,504.9 795.6,505.1 796.1,505.6 796.7,505.7 797.2,505.9 797.8,506.4 798.3,506.5 798.8,505.6 799.4,505.5 799.9,505.8 800.4,505.9 801.0,504.7 801.5,504.3 802.1,504.2 802.6,504.7 803.1,505.4 803.7,506.6 804.2,506.5 804.8,506.5 805.3,506.3 805.9,505.8 806.4,506.3 806.9,506.3 807.5,506.2 808.0,506.3 808.5,506.2 809.1,506.1 809.6,506.5 810.2,506.6 810.7,505.2 811.2,504.6 811.8,505.5 812.3,506.9 812.9,507.0 813.4,506.5 814.0,505.8 814.5,505.5 815.0,505.4 815.6,506.1 816.1,506.1 816.6,506.1 817.2,505.9 817.7,505.7 818.3,505.7 818.8,506.3 819.3,507.1 819.9,507.5 820.4,507.2 821.0,506.4 821.5,507.0 822.0,508.7 822.6,508.6 823.1,507.7 823.7,506.5 824.2,506.1 824.8,506.4 825.3,506.4 825.8,506.3 826.4,506.1 826.9,506.0 827.5,506.2 828.0,506.1 828.5,506.0 829.1,505.8 829.6,505.9 830.1,505.7 830.7,504.7 831.2,504.8 831.8,506.2 832.3,506.3 832.8,505.2 833.4,504.0 833.9,503.5 834.5,503.8 835.0,505.0 835.5,505.9 836.1,506.2 836.6,506.2 837.2,506.4 837.7,506.3 838.2,506.0 838.8,505.8 839.3,506.1 839.9,507.0 840.4,507.3 840.9,507.5 841.5,507.4 842.0,507.8 842.6,507.3 843.1,506.4 843.6,507.0 844.2,508.4 844.7,509.6 845.3,509.8 845.8,509.9 846.3,510.1 846.9,509.9 847.4,509.4 848.0,508.9 848.5,509.3 849.1,510.4 849.6,509.8 850.1,509.1 850.7,509.0 851.2,509.9 851.8,508.9 852.3,508.1 852.8,507.7 853.4,508.0 853.9,508.5 854.4,509.0 855.0,508.1 855.5,507.7 856.1,507.6 856.6,507.2 857.1,506.1 857.7,505.9 858.2,505.8 858.8,506.0 859.3,506.1 859.9,505.1 860.4,504.9 860.9,505.6 861.5,505.9 862.0,505.4 862.5,505.5 863.1,506.4 863.6,507.0 864.2,506.5 864.7,505.8 865.2,505.5 865.8,506.0 866.3,506.2 866.9,506.3 867.4,506.3 867.9,506.5 868.5,506.5 869.0,506.4 869.6,506.3 870.1,506.8 870.6,507.2 871.2,507.0 871.7,506.5 872.3,506.6 872.8,507.3 873.4,507.7 873.9,507.2 874.4,506.4 875.0,506.3 875.5,506.9 876.0,507.1 876.6,507.0 877.1,506.9 877.7,507.0 878.2,507.1 878.7,507.0 879.3,506.5 879.8,506.1 880.4,506.7 880.9,507.1 881.5,506.6 882.0,506.1 882.5,506.5 883.1,507.2 883.6,507.7 884.1,507.7 884.7,507.2 885.2,506.5 885.8,506.1 886.3,506.7 886.8,507.4 887.4,507.6 887.9,507.3 888.5,506.8 889.0,506.2 889.6,506.3 890.1,507.2 890.6,508.0 891.2,508.1 891.7,507.4 892.2,507.6 892.8,508.3 893.3,508.5 893.9,508.1 894.4,507.9 894.9,506.9 895.5,506.3 896.0,506.7 896.6,507.7 897.1,507.2 897.6,506.2 898.2,506.1 898.7,506.8 899.3,507.4 899.8,507.3 900.4,507.4 900.9,508.0 901.4,507.6 902.0,508.1 902.5,508.8 903.0,508.6 903.6,507.4 904.1,507.4 904.7,508.6 905.2,508.3 905.8,507.3 906.3,506.9 906.8,507.5 907.4,507.3 907.9,507.4 908.4,507.6 909.0,507.3 909.5,507.7 910.1,507.8 910.6,507.8 911.1,508.3 911.7,507.6 912.2,507.2 912.8,507.1 913.3,506.9 913.9,506.8 914.4,506.7 914.9,506.8 915.5,506.4 916.0,506.1 916.5,506.3 917.1,507.0 917.6,507.4 918.2,507.4 918.7,507.4 919.2,507.4 919.8,508.1 920.3,508.6 920.9,507.5 921.4,506.3 922.0,505.7 922.5,505.7 923.0,506.4 923.6,506.5 924.1,505.5 924.6,505.5 925.2,505.5 925.7,505.2 926.3,504.6 926.8,504.4 927.3,505.0 927.9,506.0 928.4,505.8 929.0,505.8 929.5,506.6 930.1,507.0 930.6,507.0 931.1,506.0 931.7,505.2 932.2,505.9 932.8,507.0 933.3,506.8 933.8,504.7 934.4,504.3 934.9,504.9 935.4,505.3 936.0,504.4 936.5,504.7 937.1,505.5 937.6,505.3 938.1,505.3 938.7,504.4 939.2,503.7 939.8,503.4 940.3,503.9 940.9,503.8 941.4,503.6 941.9,503.7 942.5,503.7 943.0,503.5 943.5,503.5 944.1,502.8 944.6,503.4 945.2,504.4 945.7,504.8 946.2,504.5 946.8,504.5 947.3,504.9 947.9,505.1 948.4,505.4 948.9,505.5 949.5,505.3 950.0,505.4 950.6,505.8 951.1,504.7 951.6,504.1 952.2,503.7 952.7,503.4 953.3,503.8 953.8,504.0 954.4,503.8 954.9,503.6 955.4,504.2 956.0,504.1 956.5,503.4 957.0,503.6 957.6,503.9 958.1,503.7 958.7,503.2 959.2,502.9 959.7,502.7 960.3,502.7 960.8,502.4 961.4,502.7 961.9,503.6 962.5,503.7 963.0,503.5 963.5,503.8 964.1,504.2 964.6,504.6 965.1,504.2 965.7,504.0 966.2,504.7 966.8,505.7 967.3,506.6 967.8,507.1 968.4,506.5 968.9,506.4 969.5,508.2 970.0,509.2 970.5,509.5 971.1,509.7 971.6,510.0 972.2,510.8 972.7,510.9 973.2,509.5 973.8,509.3 974.3,509.6 974.9,509.5 975.4,509.2 975.9,509.5 976.5,510.1 977.0,509.6 977.6,508.0 978.1,507.1 978.6,506.9 979.2,506.3 979.7,505.9 980.3,505.0 980.8,504.2 981.4,503.9 981.9,503.9 982.4,504.1 983.0,503.4 983.5,502.4 984.0,502.2 984.6,504.0 985.1,504.9 985.7,504.3 986.2,503.4 986.8,503.5 987.3,505.1 987.8,506.0 988.4,506.2 988.9,506.7 989.4,507.1 990.0,507.3 990.5,508.0 991.1,508.8 991.6,508.4 992.1,508.0 992.7,507.9 993.2,507.0 993.8,506.9 994.3,506.9 994.9,506.6 995.4,505.9 995.9,504.9 996.5,505.1 997.0,505.9 997.5,506.2 998.1,505.3 998.6,504.1 999.2,504.2 999.7,504.5 1000.2,503.6 1000.8,502.6 1001.3,502.3 1001.9,502.8 1002.4,503.7 1003.0,504.1 1003.5,505.3 1004.0,505.8 1004.6,506.9 1005.1,507.5 1005.6,508.2 1006.2,508.9 1006.7,508.0 1007.3,507.6 1007.8,507.1 1008.3,507.5 1008.9,507.8 1009.4,507.8 1010.0,507.5 1010.5,507.2 1011.0,507.8 1011.6,508.6 1012.1,508.2 1012.7,508.0 1013.2,508.2 1013.8,508.6 1014.3,508.0 1014.8,506.8 1015.4,506.8 1015.9,506.5 1016.4,506.1 1017.0,505.5 1017.5,505.6 1018.1,507.0 1018.6,507.2 1019.1,506.9 1019.7,506.6 1020.2,506.4 1020.8,505.8 1021.3,505.4 1021.9,505.4 1022.4,506.0 1022.9,506.8 1023.5,506.6 1024.0,505.5 1024.5,504.8 1025.1,505.2 1025.6,505.1 1026.2,504.1 1026.7,503.2 1027.2,503.8 1027.8,504.2 1028.3,504.2 1028.9,503.3 1029.4,502.7 1029.9,503.3 1030.5,504.2 1031.0,504.5 1031.6,504.6 1032.1,505.2 1032.7,506.0 1033.2,505.7 1033.7,505.3 1034.3,505.6 1034.8,506.5 1035.3,506.4 1035.9,506.0 1036.4,505.9 1037.0,506.7 1037.5,508.2 1038.0,507.6 1038.6,507.0 1039.1,507.1 1039.7,508.2 1040.2,508.6 1040.8,508.8 1041.3,508.2 1041.8,507.5 1042.4,507.0 1042.9,507.0 1043.5,507.3 1044.0,507.3 1044.5,506.9 1045.1,506.7 1045.6,506.8 1046.2,506.7 1046.7,506.3 1047.2,505.7 1047.8,506.0 1048.3,505.7 1048.8,505.1 1049.4,504.9 1049.9,505.5 1050.5,505.4 1051.0,504.7 1051.5,504.5 1052.1,504.6 1052.6,505.2 1053.2,506.0 1053.7,506.8 1054.2,506.2 1054.8,505.1 1055.3,505.1 1055.9,505.0 1056.4,504.1 1056.9,503.7 1057.5,504.3 1058.0,505.4 1058.6,505.2 1059.1,504.2 1059.7,504.0 1060.2,504.7 1060.7,505.7 1061.3,505.7 1061.8,506.1 1062.3,506.6 1062.9,506.6 1063.4,505.9 1064.0,505.4 1064.5,505.2 1065.0,505.4 1065.6,505.6 1066.1,505.9 1066.7,506.2 1067.2,507.4 1067.8,508.8 1068.3,508.9 1068.8,508.1 1069.4,508.3 1069.9,509.1 1070.4,509.9 1071.0,510.0 1071.5,509.4 1072.1,508.5 1072.6,507.9 1073.2,507.7 1073.7,507.9 1074.2,509.0 1074.8,509.8 1075.3,509.6 1075.8,508.2 1076.4,507.7 1076.9,508.1 1077.5,508.5 1078.0,508.4 1078.5,507.9 1079.1,507.5 1079.6,507.3 1080.2,506.6 1080.7,506.3 1081.2,506.4 1081.8,506.5 1082.3,506.6 1082.9,506.9 1083.4,507.2 1084.0,507.2 1084.5,507.1 1085.0,507.2 1085.6,506.1 1086.1,505.7 1086.7,506.6 1087.2,507.6 1087.7,508.5 1088.3,509.0 1088.8,508.0 1089.3,506.5 1089.9,506.4 1090.4,507.0 1091.0,507.3 1091.5,507.0 1092.0,506.1 1092.6,506.0 1093.1,506.1 1093.7,505.5 1094.2,504.6 1094.8,504.9 1095.3,505.4 1095.8,504.6 1096.4,503.8 1096.9,504.6 1097.4,505.8 1098.0,505.7 1098.5,504.6 1099.1,503.7 1099.6,504.0 1100.2,506.1 1100.7,506.4 1101.2,505.1 1101.8,504.4 1102.3,504.9 1102.8,505.8 1103.4,506.1 1103.9,506.5 1104.5,506.9 1105.0,507.2 1105.5,507.3 1106.1,506.9 1106.6,507.0 1107.2,507.9 1107.7,508.0 1108.2,506.7 1108.8,506.4 1109.3,507.3 1109.9,507.6 1110.4,506.5 1110.9,505.5 1111.5,505.7 1112.0,506.1 1112.6,506.6 1113.1,506.7 1113.7,506.2 1114.2,505.8 1114.7,505.0 1115.3,504.8 1115.8,504.5 1116.3,504.2 1116.9,504.5 1117.4,504.7 1118.0,504.3 1118.5,504.8 1119.0,505.3 1119.6,505.1 1120.1,503.9 1120.7,504.4 1121.2,505.7 1121.8,505.6 1122.3,504.8 1122.8,504.8 1123.4,505.2 1123.9,505.7 1124.5,506.3 1125.0,506.6 1125.5,507.0 1126.1,506.8 1126.6,507.0 1127.2,508.2 1127.7,508.4 1128.2,507.5 1128.8,507.2 1129.3,507.1 1129.8,506.0 1130.4,505.7 1130.9,505.9 1131.5,505.6 1132.0,504.5 1132.5,504.4 1133.1,505.3 1133.6,505.7 1134.2,505.6 1134.7,505.9 1135.2,505.9 1135.8,505.7 1136.3,505.7 1136.9,505.5 1137.4,505.6 1137.9,505.9 1138.5,505.8 1139.0,506.0 1139.6,505.9 1140.1,505.8 1140.7,506.3 1141.2,506.8 1141.7,506.6 1142.3,506.7 1142.8,507.2 1143.3,507.8 1143.9,507.8 1144.4,507.9 1145.0,509.0 1145.5,508.4 1146.0,507.1 1146.6,506.4 1147.1,506.0 1147.7,506.4 1148.2,506.3 1148.8,504.7 1149.3,504.0 1149.8,503.4 1150.4,503.8 1150.9,504.9 1151.4,505.2 1152.0,504.8 1152.5,504.5 1153.1,505.0 1153.6,504.8 1154.2,504.6 1154.7,505.2 1155.2,505.5 1155.8,504.4 1156.3,503.9 1156.8,503.7 1157.4,504.5 1157.9,505.5 1158.5,505.8 1159.0,505.6 1159.5,506.6 1160.1,506.3 1160.6,506.6 1161.2,507.7 1161.7,507.5 1162.2,506.3 1162.8,505.4 1163.3,505.8 1163.9,506.5 1164.4,507.3 1165.0,507.0 1165.5,506.6 1166.0,505.5 1166.6,505.0 1167.1,505.5 1167.7,506.3 1168.2,506.5 1168.7,505.8 1169.3,505.9 1169.8,506.4 1170.3,506.6 1170.9,507.7 1171.4,508.1 1172.0,508.3 1172.5,508.0 1173.0,508.0 1173.6,509.1 1174.1,510.0 1174.7,508.7 1175.2,507.8 1175.8,508.0 1176.3,508.5 1176.8,508.2 1177.4,507.5 1177.9,507.7 1178.4,507.6 1179.0,508.1 1179.5,508.6 1180.1,509.0 1180.6,508.9 1181.2,508.5 1181.7,507.4 1182.2,507.1 1182.8,506.1 1183.3,505.4 1183.8,505.4 1184.4,505.1 1184.9,504.0 1185.5,503.4 1186.0,504.1 1186.5,504.4 1187.1,503.6 1187.6,502.7 1188.2,503.5 1188.7,504.4 1189.2,504.5 1189.8,503.5 1190.3,502.8 1190.9,502.6 1191.4,502.6 1191.9,502.7 1192.5,503.2 1193.0,503.5 1193.6,503.8 1194.1,504.5 1194.7,505.6 1195.2,505.9 1195.7,506.1 1196.3,506.8 1196.8,507.6 1197.3,507.7 1197.9,507.7 1198.4,507.4 1199.0,506.9 1199.5,506.5 1200.0,506.7 1200.6,507.2 1201.1,507.2 1201.7,506.6 1202.2,505.9 1202.8,506.1 1203.3,506.4 1203.8,506.3 1204.4,505.5 1204.9,504.8 1205.5,504.2 1206.0,504.0 1206.5,504.2 1207.1,503.7 1207.6,503.0 1208.2,502.7 1208.7,502.3 1209.2,502.8 1209.8,504.3 1210.3,505.2 1210.8,505.0 1211.4,504.9 1211.9,504.7 1212.5,505.3 1213.0,505.6 1213.5,505.4 1214.1,504.2 1214.6,503.9 1215.2,504.3 1215.7,505.3 1216.2,505.8 1216.8,505.2 1217.3,504.8 1217.9,505.3 1218.4,505.8 1218.9,506.0 1219.5,505.3 1220.0,504.9 1220.6,504.6 1221.1,504.0 1221.7,503.8 1222.2,503.2 1222.7,503.1 1223.3,503.4 1223.8,503.4 1224.3,503.2 1224.9,503.3 1225.4,503.6 1226.0,503.3 1226.5,503.5 1227.0,503.3 1227.6,503.8 1228.1,503.9 1228.7,503.6 1229.2,503.0 1229.8,502.8 1230.3,503.0 1230.8,503.6 1231.4,503.9 1231.9,504.4 1232.4,504.3 1233.0,503.7 1233.5,503.6 1234.1,503.5 1234.6,503.5 1235.2,503.6 1235.7,503.5 1236.2,503.5 1236.8,503.4 1237.3,502.9 1237.8,502.8 1238.4,502.1 1238.9,501.5 1239.5,502.0 1240.0,503.0 1240.5,503.8 1241.1,503.8 1241.6,504.2 1242.2,504.6 1242.7,503.8 1243.2,503.7 1243.8,504.7 1244.3,505.2 1244.9,505.1 1245.4,505.7 1246.0,506.2 1246.5,506.9 1247.0,507.1 1247.6,507.9 1248.1,508.7 1248.7,508.0 1249.2,507.3 1249.7,507.8 1250.3,508.0 1250.8,506.9 1251.3,506.0 1251.9,505.5 1252.4,505.2 1253.0,505.4 1253.5,505.1 1254.0,504.7 1254.6,504.7 1255.1,505.6 1255.7,506.0 1256.2,504.6 1256.8,503.3 1257.3,503.9 1257.8,504.8 1258.4,504.7 1258.9,503.6 1259.4,503.6 1260.0,504.9 1260.5,505.4 1261.1,504.7 1261.6,504.4 1262.2,505.4 1262.7,506.7 1263.2,507.2 1263.8,505.9 1264.3,505.2 1264.8,505.3 1265.4,505.3 1265.9,504.5 1266.5,503.7 1267.0,503.9 1267.5,504.1 1268.1,503.5 1268.6,502.1 1269.2,501.5 1269.7,502.2 1270.2,502.7 1270.8,502.2 1271.3,502.3 1271.9,502.8 1272.4,502.7 1272.9,502.3 1273.5,501.4 1274.0,500.9 1274.6,500.8 1275.1,501.4 1275.6,501.7 1276.2,502.3 1276.7,502.8 1277.3,502.8 1277.8,503.4 1278.3,503.8 1278.9,503.8 1279.4,504.4 1280.0,505.0 1280.5,504.7 1281.0,504.1 1281.6,504.0 1282.1,503.9 1282.7,503.8 1283.2,503.9 1283.8,504.1 1284.3,503.8 1284.8,503.6 1285.4,504.1 1285.9,504.9 1286.5,504.8 1287.0,505.1 1287.5,505.0 1288.1,505.3 1288.6,504.8 1289.2,504.3 1289.7,504.6 1290.2,504.9 1290.8,503.7 1291.3,503.5 1291.8,503.8 1292.4,504.3 1292.9,504.5 1293.5,504.3 1294.0,504.4 1294.5,504.4 1295.1,505.1 1295.6,505.8 1296.2,505.5 1296.7,505.1" fill="none" stroke="#cdcd00" stroke-width="1.9" stroke-linejoin="round" stroke-linecap="round" />
<polyline points="358.0,306.7 359.4,307.0 361.5,307.4 363.7,307.9 365.8,308.3 367.6,308.7 369.4,309.2 371.2,309.6 373.0,309.8 374.7,309.8 376.4,309.7 378.2,309.5 380.2,309.2 382.5,308.6 385.0,307.8 387.6,307.1 389.9,306.7 391.9,306.8 393.7,307.3 395.4,307.8 397.1,308.3 398.9,308.7 400.7,309.2 402.5,309.6 404.3,309.8 406.1,309.9 407.8,309.9 409.6,309.8 411.6,309.5 413.9,308.9 416.4,308.0 418.9,307.2 421.2,306.7 423.2,306.7 424.9,307.1 426.6,307.5 428.4,308.0 430.2,308.5 432.1,309.1 434.0,309.6 435.7,309.8 437.3,309.8 438.8,309.5 440.2,309.1 441.7,308.3 443.2,307.1 444.8,305.6 446.3,304.0 447.7,302.5 448.9,301.1 450.0,299.6 451.2,298.3 452.5,297.1 454.2,296.0 456.0,295.1 457.9,294.4 459.8,294.1 461.6,294.4 463.3,295.3 465.1,296.3 467.0,297.1 469.0,297.8 471.2,298.5 473.3,299.0 475.4,299.2 477.3,299.0 479.2,298.6 481.0,298.0 482.7,297.1 484.2,296.0 485.6,294.5 487.0,293.0 488.7,291.7 490.8,290.5 493.1,289.4 495.6,288.4 498.3,287.5 501.3,286.7 504.5,286.0 507.7,285.4 510.4,284.9 512.5,284.5 514.1,284.2 515.6,284.0 517.2,284.2 519.0,284.7 520.8,285.4 522.7,286.4 524.5,287.5 526.4,288.9 528.3,290.5 530.1,292.1 531.7,293.5 533.0,294.6 534.2,295.6 535.3,296.4 536.5,297.1 537.9,297.7 539.3,298.3 540.9,298.7 542.5,298.9 544.3,298.9 546.1,298.6 548.0,298.2 549.8,298.0 551.4,297.8 553.0,297.6 554.4,297.5 555.8,297.7 557.1,298.1 558.2,298.8 559.3,299.6 560.6,300.7 562.0,302.2 563.6,303.9 565.2,305.7 566.6,307.3 567.9,308.6 569.1,309.8 570.3,310.8 571.4,311.6 572.5,312.2 573.6,312.6 574.6,312.8 575.7,312.8 576.7,312.7 577.8,312.4 578.8,311.9 579.9,311.2 581.0,310.2 582.2,308.9 583.4,307.5 584.7,306.1 586.1,304.7 587.6,303.2 589.2,301.8 590.7,300.7 592.2,299.8 593.7,299.1 595.2,298.6 596.7,298.3 598.2,298.3 599.8,298.5 601.3,298.7 602.8,298.9 604.3,299.0 605.8,299.1 607.3,299.1 608.8,298.9 610.3,298.6 611.8,298.1 613.3,297.4 614.8,296.5 616.3,295.2 617.9,293.5 619.4,291.9 620.8,290.5 622.1,289.5 623.2,288.7 624.4,288.1 625.7,287.5 627.1,286.9 628.5,286.4 630.0,286.0 631.7,285.7 633.7,285.5 635.8,285.4 638.0,285.3 640.1,285.1 642.0,284.8 643.8,284.5 645.5,284.2 647.3,283.9 649.1,283.7 650.9,283.5 652.8,283.3 654.6,283.3 656.4,283.4 658.2,283.5 660.0,283.8 661.8,284.2 663.6,284.8 665.4,285.6 667.2,286.5 669.0,287.5 670.8,288.6 672.7,289.7 674.6,291.0 676.3,292.3 677.9,293.7 679.4,295.1 680.8,296.6 682.3,298.3 683.8,300.1 685.3,302.0 686.8,304.1 688.3,306.1 689.8,308.2 691.4,310.5 692.9,312.6 694.3,314.6 695.6,316.3 696.7,317.9 697.9,319.4 699.2,320.6 700.7,321.7 702.2,322.6 703.8,323.3 705.3,323.6 706.7,323.5 708.1,322.9 709.5,322.1 710.8,321.2 712.1,320.1 713.3,318.8 714.5,317.3 715.7,315.8 716.9,314.1 718.1,312.3 719.3,310.4 720.5,308.6 721.7,306.8 722.8,305.1 724.0,303.4 725.3,301.9 726.7,300.6 728.1,299.5 729.7,298.5 731.3,297.7 733.0,297.1 734.9,296.7 736.8,296.4 738.6,296.3 740.4,296.4 742.3,296.6 744.1,297.0 745.8,297.5 747.4,298.1 748.9,298.9 750.3,299.8 751.8,300.7 753.3,301.7 754.8,302.8 756.3,303.9 757.8,304.9 759.3,305.9 760.8,306.9 762.3,307.8 763.9,308.6 765.6,309.2 767.4,309.7 769.3,310.0 771.1,310.1 772.9,309.9 774.7,309.4 776.5,308.8 778.3,308.3 780.2,307.8 782.2,307.3 784.1,306.9 786.1,306.7 788.1,306.9 790.0,307.3 792.0,307.8 794.0,308.3 796.1,308.7 798.2,309.2 800.4,309.6 802.4,309.8 804.3,309.7 806.0,309.4 807.8,309.0 809.6,308.6 811.5,308.1 813.5,307.5 815.5,307.0 817.5,306.7 819.4,306.8 821.3,307.1 823.2,307.6 825.3,308.0 827.6,308.5 830.1,309.0 832.6,309.5 834.9,309.8 836.9,309.8 838.7,309.5 840.4,309.2 842.2,308.8 844.0,308.4 845.8,307.9 847.6,307.5 849.4,307.1 851.2,306.9 853.1,306.8 854.9,306.8 856.6,306.7 858.2,306.6 859.7,306.5 861.2,306.4 862.7,306.1 864.2,305.7 865.7,305.2 867.2,304.5 868.7,303.7 870.2,302.6 871.8,301.4 873.3,300.1 874.7,298.9 876.0,297.9 877.2,297.0 878.3,296.2 879.5,295.5 880.7,294.9 881.8,294.5 883.0,294.2 884.3,294.1 885.7,294.2 887.2,294.5 888.7,295.1 890.2,295.9 891.7,297.1 893.1,298.7 894.5,300.4 896.0,301.9 897.5,303.3 899.0,304.6 900.5,305.7 902.0,306.7 903.5,307.5 905.0,308.0 906.6,308.4 908.1,308.6 909.6,308.5 911.1,308.1 912.6,307.7 914.1,307.3 915.6,307.0 917.0,306.8 918.5,306.6 920.1,306.7 921.8,307.1 923.6,307.8 925.5,308.6 927.3,309.2 929.1,309.8 930.9,310.4 932.8,310.8 934.6,311.0 936.4,310.8 938.1,310.4 939.9,309.8 941.8,309.2 943.8,308.5 946.0,307.6 948.1,306.8 950.2,306.4 952.1,306.5 953.9,306.8 955.6,307.4 957.5,308.0 959.6,308.8 961.7,309.7 963.9,310.6 965.9,311.0 967.8,311.0 969.6,310.7 971.4,310.1 973.1,309.2 974.7,307.9 976.2,306.3 977.7,304.6 979.2,303.1 980.7,301.7 982.1,300.4 983.6,299.3 985.2,298.3 986.9,297.5 988.8,296.9 990.7,296.5 992.4,296.3 994.0,296.4 995.4,296.7 996.8,297.1 998.4,297.5 1000.1,297.9 1002.0,298.5 1003.9,299.0 1005.7,299.5 1007.5,299.9 1009.3,300.3 1011.1,300.8 1012.9,301.3 1014.7,302.0 1016.6,302.8 1018.4,303.6 1020.1,304.3 1021.7,304.9 1023.2,305.4 1024.6,305.8 1026.1,305.9 1027.6,305.8 1029.1,305.6 1030.7,305.1 1032.2,304.3 1033.7,303.1 1035.3,301.4 1036.8,299.7 1038.2,298.3 1039.5,297.2 1040.7,296.2 1041.8,295.4 1043.0,294.7 1044.2,294.2 1045.4,293.8 1046.6,293.5 1047.8,293.5 1049.0,293.6 1050.2,293.9 1051.4,294.4 1052.7,295.3 1054.2,296.8 1055.7,298.7 1057.3,300.7 1058.7,302.5 1060.0,303.9 1061.1,305.2 1062.2,306.3 1063.5,307.3 1064.9,308.2 1066.4,309.0 1068.0,309.5 1069.5,309.8 1071.0,309.7 1072.4,309.2 1073.9,308.6 1075.5,308.0 1077.2,307.4 1079.1,306.6 1081.0,306.0 1082.8,305.5 1084.6,305.3 1086.3,305.3 1088.0,305.4 1089.6,305.5 1091.0,305.6 1092.2,305.8 1093.3,306.0 1094.5,305.9 1095.7,305.6 1096.9,305.1 1098.1,304.5 1099.3,303.7 1100.5,302.7 1101.7,301.4 1102.9,300.1 1104.1,298.9 1105.3,297.7 1106.5,296.6 1107.7,295.5 1108.9,294.7 1110.0,294.1 1111.0,293.8 1112.0,293.6 1113.1,293.5 1114.3,293.6 1115.5,293.8 1116.8,294.1 1118.0,294.7 1119.1,295.5 1120.1,296.4 1121.1,297.6 1122.2,298.9 1123.4,300.6 1124.6,302.5 1125.8,304.4 1127.0,306.1 1128.2,307.5 1129.5,308.8 1130.7,309.9 1131.8,310.7 1132.6,311.3 1133.3,311.6 1134.0,311.7 1134.8,311.6 1135.8,311.3 1136.8,310.7 1137.9,310.0 1139.0,309.2 1140.1,308.2 1141.1,307.0 1142.2,305.9 1143.3,305.0 1144.4,304.4 1145.4,303.9 1146.5,303.6 1147.5,303.5 1148.5,303.7 1149.6,304.0 1150.7,304.6 1151.7,305.5 1152.7,306.7 1153.8,308.2 1154.8,309.9 1155.9,311.6 1157.1,313.4 1158.3,315.2 1159.6,317.1 1160.7,318.8 1161.7,320.4 1162.6,321.8 1163.6,323.2 1164.5,324.2 1165.5,324.9 1166.5,325.4 1167.5,325.7 1168.5,325.8 1169.6,325.8 1170.8,325.5 1171.9,325.2 1172.9,324.8 1173.8,324.3 1174.5,323.8 1175.3,323.3 1176.1,322.9 1177.0,322.7 1178.0,322.6 1179.0,322.6 1180.0,322.9 1180.9,323.4 1181.9,324.2 1182.8,325.1 1183.8,326.1 1184.8,327.3 1185.9,328.7 1187.0,330.1 1188.2,331.2 1189.4,332.1 1190.7,332.9 1192.1,333.5 1193.3,333.7 1194.5,333.5 1195.6,333.0 1196.7,332.2 1197.8,331.2 1198.8,330.0 1199.7,328.5 1200.7,326.8 1201.6,324.8 1202.6,322.4 1203.6,319.6 1204.6,316.9 1205.5,314.6 1206.3,312.9 1207.1,311.6 1207.9,310.6 1208.6,309.8 1209.3,309.2 1209.9,308.8 1210.6,308.6 1211.2,308.6 1211.8,308.7 1212.4,309.0 1213.0,309.5 1213.7,310.5 1214.5,312.0 1215.3,313.9 1216.1,316.1 1216.9,318.4 1217.7,320.8 1218.5,323.4 1219.3,326.0 1220.1,328.6 1220.9,331.3 1221.7,334.1 1222.5,336.7 1223.3,338.8 1224.0,340.3 1224.7,341.3 1225.3,342.1 1225.9,342.7 1226.4,343.1 1226.7,343.4 1227.1,343.4 1227.5,343.3 1228.0,343.1 1228.5,342.9 1229.1,342.3 1229.7,341.4 1230.3,340.0 1230.9,338.1 1231.6,336.0 1232.2,333.7 1232.8,331.1 1233.5,328.2 1234.2,325.2 1234.8,322.3 1235.4,319.5 1236.1,316.7 1236.7,314.1 1237.3,312.1 1237.8,310.7 1238.3,309.9 1238.8,309.3 1239.2,308.9 1239.6,308.6 1239.9,308.5 1240.2,308.6 1240.5,308.9 1240.9,309.3 1241.2,309.8 1241.6,310.6 1242.0,312.1 1242.4,314.3 1242.9,317.0 1243.3,320.2 1243.7,323.5 1244.1,327.1 1244.4,331.0 1244.7,335.0 1245.0,338.8 1245.3,342.4 1245.5,345.8 1245.7,349.2 1245.9,352.9 1246.2,356.9 1246.4,361.2 1246.7,365.5 1246.9,369.4 1247.1,372.9 1247.2,376.2 1247.4,379.3 1247.5,382.2 1247.6,385.0 1247.7,387.8 1247.8,390.1 1247.9,391.7" fill="none" stroke="#00c8c8" stroke-width="2.3" stroke-linejoin="round" stroke-linecap="round" />
<polyline points="332.4,296.3 352.4,296.3 381.2,296.2 412.5,296.2 440.0,296.1 462.2,296.0 482.4,295.9 501.3,295.8 520.0,295.6 538.1,295.3 555.2,295.0 572.3,294.6 590.0,294.3 605.1,293.9 618.4,293.6 636.5,293.2 666.0,293.0 716.6,292.9 782.1,292.9 845.6,292.9 890.0,292.9 904.0,292.8 899.0,292.6 892.0,292.4 900.0,292.3 933.2,292.2 980.6,292.2 1027.7,292.2 1060.0,292.2 1063.8,292.2 1069.2,292.2 1075.1,292.1 1080.0,292.0 1083.6,291.8 1086.5,291.5 1089.2,291.2 1092.0,291.1 1094.9,291.2 1097.6,291.4 1100.6,291.6 1104.0,291.7 1108.0,291.6 1112.4,291.4 1117.1,291.2 1122.0,291.1 1127.4,291.2 1133.2,291.4 1138.7,291.6 1143.0,291.7 1145.6,291.8 1146.9,291.8 1148.1,291.8 1150.0,291.7 1153.1,291.3 1156.7,290.7 1160.5,290.2 1164.0,290.0 1167.0,290.2 1169.8,290.8 1172.6,291.3 1175.5,291.7 1178.6,291.8 1181.8,291.7 1185.0,291.5 1188.2,291.4 1191.5,291.2 1194.8,290.9 1198.0,290.7 1201.0,290.7 1203.8,291.1 1206.4,291.7 1208.9,292.3 1211.2,292.7 1213.2,292.8 1215.0,292.8 1216.8,292.6 1218.8,292.3 1221.2,291.8 1223.8,291.1 1226.5,290.4 1229.0,290.1 1231.3,290.2 1233.6,290.6 1235.8,291.1 1238.0,291.7 1240.3,292.4 1242.5,293.2 1244.8,293.9 1246.9,294.3 1248.9,294.1 1250.9,293.6 1252.7,293.0 1254.5,292.3 1256.2,291.6 1257.9,290.8 1259.5,290.0 1260.9,289.4 1262.0,289.0 1262.9,288.7 1263.7,288.5 1264.7,288.5 1265.9,288.7 1267.2,289.1 1268.6,289.6 1269.8,290.4 1270.9,291.4 1271.8,292.6 1272.8,294.0 1273.7,295.5 1274.7,297.2 1275.6,299.1 1276.6,301.1 1277.5,303.1 1278.5,305.0 1279.4,307.0 1280.3,308.9 1281.3,310.8 1282.3,312.7 1283.3,314.6 1284.3,316.3 1285.1,317.8 1285.8,319.0 1286.4,320.0 1286.9,320.8 1287.3,321.3" fill="none" stroke="#0000ff" stroke-width="4.7" stroke-linejoin="round" stroke-linecap="round" />
<polyline points="331.9,700.9 1303.2,709.0" fill="none" stroke="#ff0000" stroke-width="4.1" stroke-linejoin="round" stroke-linecap="round" />
<polyline points="325.2,747.1 328.6,747.4 330.5,745.1 333.1,734.6 335.3,739.1 337.6,753.4 339.8,755.7 342.1,760.9 344.7,767.7 346.9,760.9 349.3,751.1 351.1,747.8 353.4,745.1 355.7,741.4 357.6,739.1 359.7,742.9 361.7,749.6 363.6,760.2 365.8,763.2 368.0,758.7 370.3,753.4 372.2,753.4 374.0,755.7 375.2,759.0 377.5,759.1 379.8,742.1 381.7,733.5 383.5,731.9 385.5,737.6 387.3,742.1 389.5,754.9 391.5,761.7 393.3,763.9 395.3,757.9 397.5,749.3 399.3,751.9 401.1,755.4 403.1,755.7 404.9,757.2 406.9,763.2 408.1,767.0 409.6,764.4 411.4,744.4 413.9,724.8 415.9,731.6 417.4,747.4 418.9,767.7 420.7,778.3 422.5,779.8 424.6,764.7 426.7,739.1 428.3,734.9 429.5,734.3 431.0,748.1 432.5,758.7 434.0,762.0 435.5,755.7 437.7,733.1 440.0,720.3 441.5,727.0 443.0,742.9 444.8,763.2 446.8,773.7 448.3,774.5 450.5,767.7 452.8,758.7 455.1,754.9 456.9,755.7 458.8,758.7 460.3,758.7 461.8,754.9 464.1,742.9 465.9,728.3 467.9,729.8 469.4,745.1 471.2,757.2 473.1,763.5 474.6,762.4 476.1,757.9 477.7,754.9 479.2,755.7 481.1,758.7 482.6,758.7 484.9,748.9 487.1,743.6 488.9,747.4 490.8,749.9 492.7,747.4 494.2,745.9 496.5,745.1 498.7,743.9 501.0,737.6 503.3,733.8 504.8,739.8 506.3,752.7 508.2,764.7 510.0,766.2 511.5,761.7 513.5,756.9 515.3,754.9 517.6,751.1 519.5,748.9 521.3,751.1 522.8,755.4 524.8,756.9 527.3,742.1 529.3,736.8 531.4,742.1 533.4,752.7 535.6,761.4 537.1,760.2 538.9,757.9 540.9,759.0 542.4,758.7 545.0,744.4 547.2,741.4 549.2,746.6 550.7,749.9 552.2,750.8 553.7,749.3 555.2,750.4 556.7,753.4 558.7,754.9 560.5,754.5 562.7,748.9 564.5,736.1 566.3,732.8 568.3,742.9 569.8,761.7 571.3,776.0 573.3,776.7 575.1,755.7 576.9,742.1 578.1,740.6 579.9,747.4 581.8,760.2 582.9,767.0 584.8,770.0 586.4,765.5 588.6,746.6 590.9,729.8 592.4,728.9 594.3,739.1 596.1,757.2 597.3,767.0 599.2,772.2 600.7,771.5 602.2,769.2 604.4,763.2 606.4,758.7 608.2,754.2 610.5,745.9 612.0,740.9 613.5,740.6 615.4,747.4 616.9,755.4 618.4,759.0 620.2,754.9 621.7,742.9 623.0,737.6 624.8,740.3 626.3,751.1 628.1,761.7 629.6,769.5 631.2,772.5 633.0,769.2 634.8,760.2 636.8,746.6 638.3,732.8 639.4,726.7 641.3,725.8 642.8,733.8 644.6,746.6 646.6,757.2 647.7,763.2 649.2,766.2 650.8,758.7 652.2,745.1 654.1,738.8 655.6,742.9 657.1,751.1 659.1,757.2 660.9,762.4 662.4,766.2 663.9,766.5 665.4,753.4 667.2,739.1 668.4,734.6 670.2,742.9 672.2,750.4 673.3,748.4 674.8,738.3 676.7,734.3 678.2,741.4 680.0,752.7 681.7,761.7 683.2,764.7 685.0,764.7 686.5,759.9 688.0,748.9 689.5,734.6 691.3,726.3 692.8,733.1 694.3,749.6 696.0,762.4 697.8,764.7 699.3,757.9 700.8,752.7 703.1,749.6 705.3,745.9 707.3,745.1 708.8,750.4 710.6,753.9 712.1,750.4 713.9,745.4 715.4,747.4 716.9,753.4 718.9,756.4 720.8,753.9 723.0,749.9 725.2,745.9 726.9,748.1 728.7,752.3 730.2,754.9 732.1,753.9 733.6,751.1 735.5,753.4 737.7,758.7 738.8,759.7 740.7,759.0 742.5,754.9 744.5,747.4 746.3,739.8 747.8,737.6 749.8,742.1 751.3,750.4 752.8,756.4 754.7,759.7 756.2,757.5 758.0,751.1 759.5,747.4 761.1,750.4 762.9,757.2 764.4,761.4 766.0,757.2 767.5,751.1 769.0,743.6 771.1,743.6 772.7,748.9 773.9,751.9 776.1,753.9 778.4,757.2 780.3,755.4 782.1,747.4 783.6,742.9 785.2,746.6 786.2,757.2 788.2,768.5 790.0,774.2 791.9,769.2 793.4,754.2 794.9,740.6 796.7,733.8 798.0,736.1 799.8,745.9 801.7,754.2 803.5,761.7 804.7,763.9 806.5,763.2 808.2,756.4 809.5,751.9 811.3,751.6 812.5,756.4 814.3,762.4 815.8,763.5 817.8,761.7 819.6,757.9 821.6,751.9 823.8,742.9 825.8,742.9 827.6,750.4 828.8,758.7 830.6,759.9 832.1,753.4 833.6,740.6 835.4,733.8 837.1,736.8 838.9,749.6 840.4,760.9 841.9,771.9 843.9,776.4 845.4,769.2 846.9,755.7 848.4,745.1 849.7,740.6 851.4,738.8 853.2,738.3 854.7,743.6 856.2,756.4 858.0,767.7 859.5,767.0 861.0,757.9 862.7,748.9 864.5,748.4 866.0,749.9 867.5,746.6 869.5,741.4 871.3,741.4 873.1,745.9 874.6,748.1 876.1,745.1 877.7,743.9 879.5,750.4 881.1,759.4 882.6,763.5 884.1,756.4 885.6,747.1 887.5,747.1 889.0,754.9 890.5,758.7 892.3,754.2 894.2,748.1 895.7,747.8 897.6,749.6 899.6,745.9 901.7,740.6 903.6,745.9 905.6,755.7 907.1,764.7 908.2,770.0 910.0,767.4 911.5,755.7 913.1,742.9 914.6,738.8 916.1,742.1 918.3,747.4 920.2,754.9 922.2,762.4 923.5,764.7 925.0,759.4 926.2,745.1 927.7,731.3 929.2,732.3 930.8,746.6 932.3,763.2 933.8,771.0 934.8,773.7 936.3,773.0 938.3,761.7 940.1,744.4 942.0,731.3 943.9,733.8 945.4,742.9 947.3,750.4 949.1,751.9 951.1,751.9 952.6,753.0 954.1,756.0 955.6,757.5 957.4,753.9 959.4,746.9 961.3,745.4 963.1,745.1 964.9,744.4 966.9,744.8 968.4,751.9 970.2,760.9 971.7,766.2 973.2,763.9 974.7,754.2 976.2,744.4 978.2,737.9 979.7,739.4 981.2,749.6 982.7,759.4 984.2,768.5 986.0,771.9 987.7,767.7 989.2,755.7 991.0,745.1 992.5,742.1 994.0,744.4 996.0,746.6 997.8,748.9 999.6,753.4 1001.1,758.7 1002.6,757.9 1004.1,752.7 1005.6,747.8 1007.6,751.9 1009.1,754.9 1010.9,753.9 1012.4,749.6 1013.9,747.8 1015.4,750.4 1017.3,754.2 1018.9,754.2 1020.7,749.6 1022.2,746.6 1024.1,746.6 1025.6,749.6 1027.1,754.9 1028.6,756.4 1030.5,752.7 1032.0,745.9 1033.5,738.8 1035.1,738.8 1036.5,748.9 1037.7,758.7 1039.6,763.2 1041.4,762.9 1044.5,762.4 1046.0,754.2 1047.8,743.6 1049.3,740.6 1050.8,745.1 1052.7,751.9 1054.1,745.1 1055.7,738.8 1057.2,742.9 1059.0,750.4 1060.8,752.3 1062.3,752.7 1064.3,759.4 1065.8,764.7 1067.3,765.0 1068.8,757.2 1070.3,747.4 1071.8,742.9 1073.6,741.4 1075.3,739.4 1077.1,741.4 1078.6,751.9 1080.1,762.9 1081.9,766.2 1083.4,759.4 1085.4,750.4 1087.2,744.4 1088.4,742.1 1090.2,742.1 1091.9,748.1 1093.4,754.5 1095.2,757.5 1096.7,756.9 1098.2,751.1 1099.7,746.3 1101.2,745.9 1102.7,752.7 1104.5,762.0 1106.0,763.9 1108.0,757.9 1109.5,752.7 1111.0,752.3 1112.8,756.0 1114.5,754.2 1115.5,745.1 1117.3,733.8 1119.0,734.3 1120.5,742.1 1122.0,748.9 1123.8,750.8 1125.8,754.9 1127.1,763.9 1129.1,771.9 1130.6,770.7 1132.1,762.4 1135.1,752.7 1137.0,743.6 1138.6,737.6 1140.1,735.3 1141.6,744.4 1143.1,754.2 1144.6,763.9 1146.8,765.0 1148.2,757.9 1149.7,750.4 1151.7,745.1 1153.2,742.9 1155.0,742.1 1156.5,744.4 1158.0,751.1 1159.6,756.9 1161.1,758.7 1163.0,754.9 1164.5,751.1 1166.0,750.4 1167.8,754.5 1169.4,757.6 1170.9,755.4 1172.7,748.9 1174.2,744.8 1176.2,743.9 1177.7,742.9 1178.8,740.9 1180.7,742.4 1182.2,749.6 1183.6,756.9 1185.5,759.4 1187.0,754.2 1188.6,745.1 1190.4,738.8 1191.9,742.9 1193.4,751.9 1195.0,760.2 1196.8,767.0 1198.6,765.5 1200.2,758.7 1201.7,751.9 1203.3,746.6 1205.1,742.4 1206.9,742.1 1208.4,746.6 1209.9,751.1 1211.9,751.9 1213.1,747.4 1214.5,745.1 1216.0,751.1 1217.9,761.7 1219.7,764.4 1221.2,759.4 1222.9,752.7 1224.7,746.6 1227.3,734.3 1229.2,730.1 1230.7,739.8 1232.5,754.2 1234.0,767.0 1235.7,767.0 1237.2,757.2 1238.7,746.3 1240.5,745.9 1242.0,750.4 1243.8,749.9 1245.3,744.4 1247.0,742.4 1248.8,748.9 1250.6,754.5 1252.1,756.0 1254.8,754.9 1256.6,756.0 1258.6,759.0 1260.4,762.9 1261.9,760.2 1263.4,752.7 1264.9,742.9 1266.1,737.3 1267.9,737.3 1269.4,739.1 1271.4,743.6 1273.2,749.6 1274.7,758.7 1276.2,765.5 1277.7,767.0 1279.2,765.0 1281.2,764.7 1283.0,765.9 1284.6,760.2 1286.1,747.4 1287.7,737.6 1289.0,733.8 1291.0,735.3 1292.8,739.1 1294.3,743.6 1295.8,751.4" fill="none" stroke="#bebebe" stroke-width="2.0" stroke-linejoin="round" stroke-linecap="round" />
<rect x="167.0" y="18.5" width="372.50" height="162.85" fill="#fff" stroke="#000" stroke-width="0.55"/>
<line x1="204.00" y1="39.50" x2="260.30" y2="39.50" stroke="#0000ff" stroke-width="0.55" />
<circle cx="232.30" cy="39.40" r="4.35" fill="#0000ff"/>
<text transform="translate(278.80 48.05) scale(1 1.02)" font-size="24" >Pressure</text>
<line x1="204.00" y1="69.50" x2="260.30" y2="69.50" stroke="#00c8c8" stroke-width="0.55" />
<circle cx="232.30" cy="69.50" r="4.35" fill="#00c8c8"/>
<text transform="translate(278.80 78.55) scale(1 1.02)" font-size="24" >dP/dt</text>
<line x1="204.00" y1="100.30" x2="260.30" y2="100.30" stroke="#000" stroke-width="2.5" />
<text transform="translate(278.80 109.05) scale(1 1.02)" font-size="24" >Residual</text>
<line x1="204.00" y1="130.70" x2="260.30" y2="130.70" stroke="#bebebe" stroke-width="3" />
<text transform="translate(278.80 139.55) scale(1 1.02)" font-size="24" >... last 10 min.</text>
<line x1="204.00" y1="161.50" x2="260.30" y2="161.50" stroke="#ff0000" stroke-width="0.55" />
<circle cx="232.30" cy="161.40" r="4.35" fill="#ff0000"/>
<text transform="translate(278.80 170.05) scale(1 1.02)" font-size="24" >Theor.Tide</text>
<text transform="translate(996.25 82.60) scale(1 1.02)" font-size="32.2" text-anchor="middle" font-weight="bold" >SCG_054 gravimeter Onsala Space Observatory, Sweden</text>
<text transform="translate(1315.00 154.00) scale(1 1.02)" font-size="24" text-anchor="end" font-weight="bold" >Stand-in barom. 20m</text>
<text transform="translate(191.60 888.00) scale(1 1.02)" font-size="27.85" font-weight="bold" >The latest 1-hour, 1-second sampling</text>
<text transform="translate(1430.00 888.00) scale(1 1.02)" font-size="27.85" text-anchor="end" font-weight="bold" >End at 2025-08-21 20:00:59 UTC</text>
<text transform="translate(1387.30 308.40) rotate(-90) scale(1 1.02)" font-size="24" text-anchor="middle" >1 DIV = 1 hPa/h</text>
<text transform="translate(1426.80 308.40) rotate(-90) scale(1 1.02)" font-size="24" text-anchor="middle" >average = 0.0996</text>
<text transform="translate(244.20 506.80) rotate(-90) scale(1 1.02)" font-size="24" text-anchor="middle" >Typical noise level</text>
<line x1="211.70" y1="427.54" x2="211.70" y2="585.96" stroke="#bebebe" stroke-width="2.5" />
<line x1="204.70" y1="427.54" x2="218.70" y2="427.54" stroke="#bebebe" stroke-width="2.5" />
<line x1="204.70" y1="585.96" x2="218.70" y2="585.96" stroke="#bebebe" stroke-width="2.5" />
<circle cx="211.70" cy="506.75" r="4.2" fill="#000"/>
<line x1="1135.25" y1="638.80" x2="1296.60" y2="638.80" stroke="#bebebe" stroke-width="4.0" />
<line x1="1135.25" y1="631.60" x2="1135.25" y2="646.00" stroke="#bebebe" stroke-width="4.3" />
<line x1="1296.60" y1="631.60" x2="1296.60" y2="646.00" stroke="#bebebe" stroke-width="4.3" />
<text transform="translate(58.60 506.80) rotate(-90) scale(1 1.02)" font-size="48.1" text-anchor="middle" >Obs’d Gravity [nm/s<tspan dy="-17" font-size="33.6">2</tspan><tspan dy="17">]</tspan></text>
<text transform="translate(811.10 1006.00) scale(1 1.02)" font-size="48.1" text-anchor="middle" >Time [min] from 2025-08-21 19:01:00 UTC</text>
<text transform="translate(1604.60 308.80) rotate(-90) scale(1 1.02)" font-size="48.1" text-anchor="middle" >Pressure [hPa]</text>
<text transform="translate(1612.30 703.50) rotate(-90) scale(1 1.02)" font-size="48.1" text-anchor="middle" >Tide [nm/s<tspan dy="-17" font-size="33.6">2</tspan><tspan dy="17">]</tspan></text>
</svg>
</body>
</html>
